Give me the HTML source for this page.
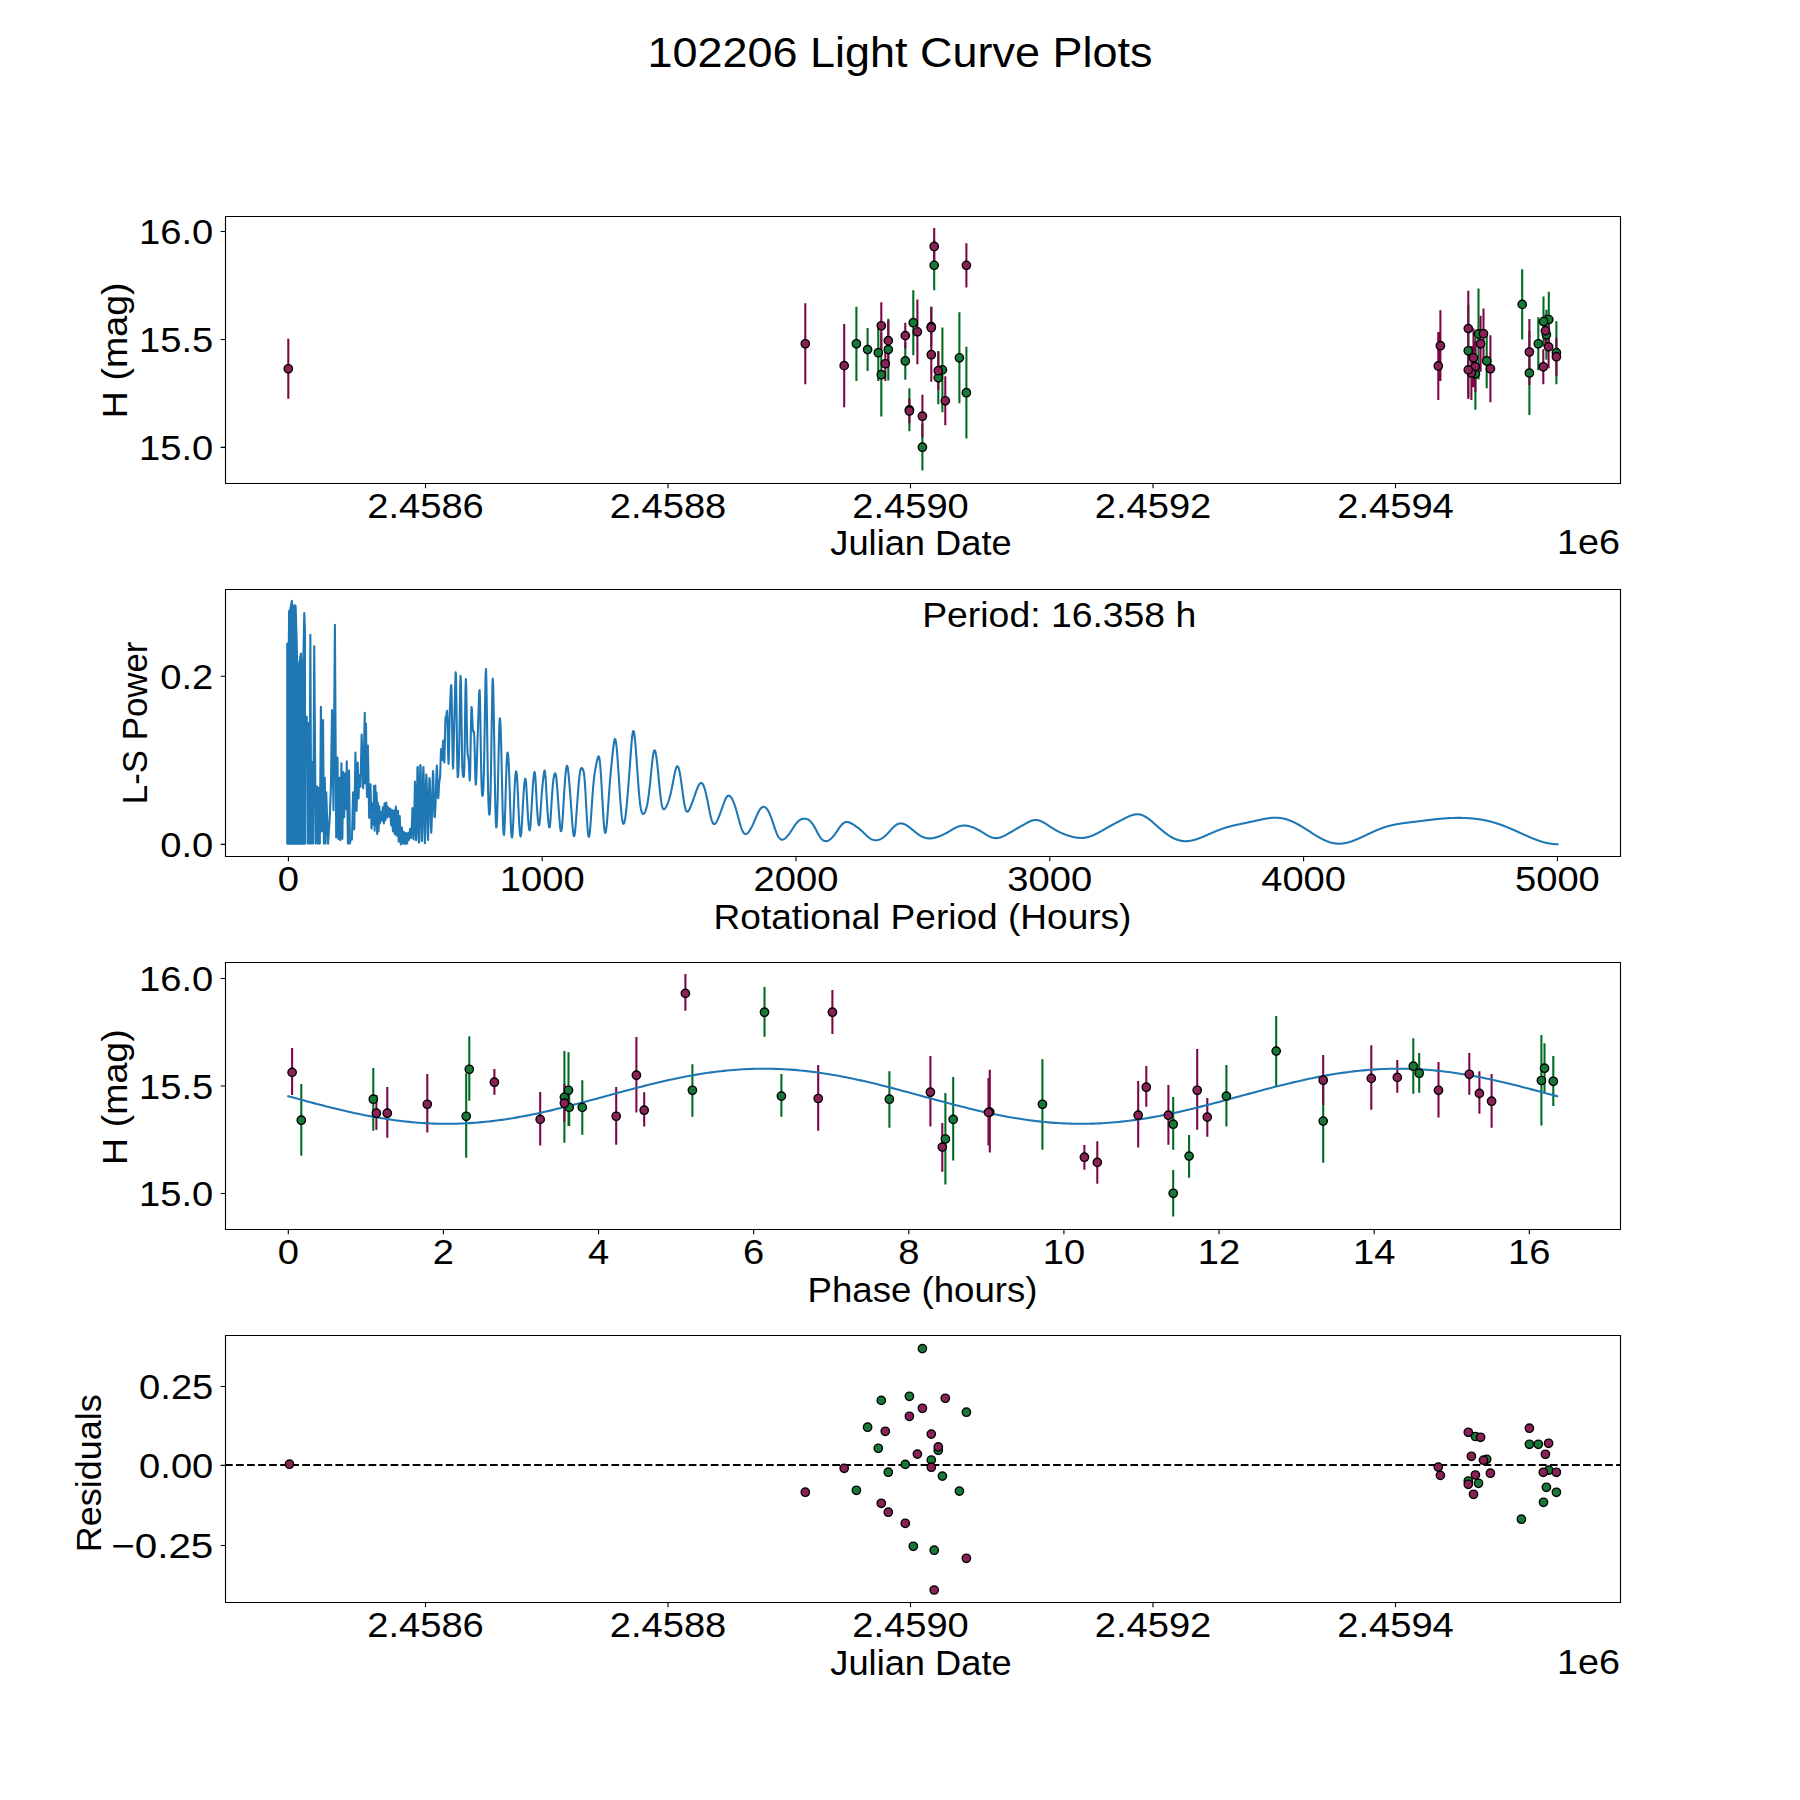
<!DOCTYPE html>
<html><head><meta charset="utf-8"><title>102206 Light Curve Plots</title>
<style>html,body{margin:0;padding:0;background:#fff;}svg{display:block;}text{font-family:"Liberation Sans",sans-serif;fill:#000;}</style>
</head><body>
<svg width="1800" height="1800" viewBox="0 0 1800 1800">
<rect width="1800" height="1800" fill="#fff"/>
<text x="900.00" y="67.19" font-size="42.40" text-anchor="middle" textLength="504.90" lengthAdjust="spacingAndGlyphs">102206 Light Curve Plots</text>
<g id="p1">
<path d="M1475.40 337.85V409.76M1556.40 321.23V384.20M913.30 290.25V355.13M942.40 327.46V412.32M1468.30 304.76V396.85M856.40 306.67V380.89M905.30 342.17V379.73M1486.70 333.58V388.32M1538.30 317.37V370.19M934.20 240.34V290.35M867.60 328.11V371.09M878.30 324.35V381.09M966.40 346.84V438.53M1529.40 331.07V414.93M959.40 312.34V403.33M938.30 351.31V404.34M922.40 423.82V470.62M909.40 388.37V431.35M888.30 318.67V380.54M1522.20 269.26V339.56M881.30 332.98V416.44M1548.80 291.66V347.49M931.30 306.67V346.54M1478.50 288.49V379.38M1543.50 296.48V346.69M1546.40 309.73V359.75" stroke="#006c23" stroke-width="2.083" fill="none"/>
<path d="M881.30 302.15V349.45M1543.30 349.35V384.20M1475.40 341.22V392.34M1473.50 328.41V387.26M905.30 322.74V348.55M1471.40 346.04V399.97M1556.40 337.80V375.66M1468.30 340.82V398.96M1468.30 290.70V366.53M885.30 346.49V381.04M934.20 228.04V264.89M1529.40 318.97V385.05M966.40 243.30V287.39M1440.40 310.29V381.09M945.30 376.37V425.28M844.20 324.09V407.25M1438.30 331.98V399.97M909.40 398.61V423.32M922.40 394.85V437.53M1490.40 335.34V402.23M888.30 320.18V361.15M288.30 338.71V398.86M805.30 303.31V384.25M938.30 351.31V390.08M1483.50 308.48V358.79M917.40 299.39V364.27M1545.40 314.40V347.24M1480.60 315.86V371.70M931.30 306.77V348.65M1548.60 325.55V368.23M931.30 327.76V381.69" stroke="#7d0745" stroke-width="2.083" fill="none"/>
<circle cx="1475.40" cy="373.81" r="4.167" fill="#177938" stroke="#000" stroke-width="1.389"/>
<circle cx="1556.40" cy="352.72" r="4.167" fill="#177938" stroke="#000" stroke-width="1.389"/>
<circle cx="913.30" cy="322.69" r="4.167" fill="#177938" stroke="#000" stroke-width="1.389"/>
<circle cx="942.40" cy="369.89" r="4.167" fill="#177938" stroke="#000" stroke-width="1.389"/>
<circle cx="1468.30" cy="350.81" r="4.167" fill="#177938" stroke="#000" stroke-width="1.389"/>
<circle cx="856.40" cy="343.78" r="4.167" fill="#177938" stroke="#000" stroke-width="1.389"/>
<circle cx="905.30" cy="360.95" r="4.167" fill="#177938" stroke="#000" stroke-width="1.389"/>
<circle cx="1486.70" cy="360.95" r="4.167" fill="#177938" stroke="#000" stroke-width="1.389"/>
<circle cx="1538.30" cy="343.78" r="4.167" fill="#177938" stroke="#000" stroke-width="1.389"/>
<circle cx="934.20" cy="265.34" r="4.167" fill="#177938" stroke="#000" stroke-width="1.389"/>
<circle cx="867.60" cy="349.60" r="4.167" fill="#177938" stroke="#000" stroke-width="1.389"/>
<circle cx="878.30" cy="352.72" r="4.167" fill="#177938" stroke="#000" stroke-width="1.389"/>
<circle cx="966.40" cy="392.69" r="4.167" fill="#177938" stroke="#000" stroke-width="1.389"/>
<circle cx="1529.40" cy="373.00" r="4.167" fill="#177938" stroke="#000" stroke-width="1.389"/>
<circle cx="959.40" cy="357.84" r="4.167" fill="#177938" stroke="#000" stroke-width="1.389"/>
<circle cx="938.30" cy="377.82" r="4.167" fill="#177938" stroke="#000" stroke-width="1.389"/>
<circle cx="922.40" cy="447.22" r="4.167" fill="#177938" stroke="#000" stroke-width="1.389"/>
<circle cx="909.40" cy="409.86" r="4.167" fill="#177938" stroke="#000" stroke-width="1.389"/>
<circle cx="888.30" cy="349.60" r="4.167" fill="#177938" stroke="#000" stroke-width="1.389"/>
<circle cx="1522.20" cy="304.41" r="4.167" fill="#177938" stroke="#000" stroke-width="1.389"/>
<circle cx="881.30" cy="374.71" r="4.167" fill="#177938" stroke="#000" stroke-width="1.389"/>
<circle cx="1548.80" cy="319.58" r="4.167" fill="#177938" stroke="#000" stroke-width="1.389"/>
<circle cx="931.30" cy="326.61" r="4.167" fill="#177938" stroke="#000" stroke-width="1.389"/>
<circle cx="1478.50" cy="333.94" r="4.167" fill="#177938" stroke="#000" stroke-width="1.389"/>
<circle cx="1543.50" cy="321.58" r="4.167" fill="#177938" stroke="#000" stroke-width="1.389"/>
<circle cx="1546.40" cy="334.74" r="4.167" fill="#177938" stroke="#000" stroke-width="1.389"/>
<circle cx="881.30" cy="325.80" r="4.167" fill="#8a2257" stroke="#000" stroke-width="1.389"/>
<circle cx="1543.30" cy="366.78" r="4.167" fill="#8a2257" stroke="#000" stroke-width="1.389"/>
<circle cx="1475.40" cy="366.78" r="4.167" fill="#8a2257" stroke="#000" stroke-width="1.389"/>
<circle cx="1473.50" cy="357.84" r="4.167" fill="#8a2257" stroke="#000" stroke-width="1.389"/>
<circle cx="905.30" cy="335.64" r="4.167" fill="#8a2257" stroke="#000" stroke-width="1.389"/>
<circle cx="1471.40" cy="373.00" r="4.167" fill="#8a2257" stroke="#000" stroke-width="1.389"/>
<circle cx="1556.40" cy="356.73" r="4.167" fill="#8a2257" stroke="#000" stroke-width="1.389"/>
<circle cx="1468.30" cy="369.89" r="4.167" fill="#8a2257" stroke="#000" stroke-width="1.389"/>
<circle cx="1468.30" cy="328.61" r="4.167" fill="#8a2257" stroke="#000" stroke-width="1.389"/>
<circle cx="885.30" cy="363.76" r="4.167" fill="#8a2257" stroke="#000" stroke-width="1.389"/>
<circle cx="934.20" cy="246.46" r="4.167" fill="#8a2257" stroke="#000" stroke-width="1.389"/>
<circle cx="1529.40" cy="352.01" r="4.167" fill="#8a2257" stroke="#000" stroke-width="1.389"/>
<circle cx="966.40" cy="265.34" r="4.167" fill="#8a2257" stroke="#000" stroke-width="1.389"/>
<circle cx="1440.40" cy="345.69" r="4.167" fill="#8a2257" stroke="#000" stroke-width="1.389"/>
<circle cx="945.30" cy="400.82" r="4.167" fill="#8a2257" stroke="#000" stroke-width="1.389"/>
<circle cx="844.20" cy="365.67" r="4.167" fill="#8a2257" stroke="#000" stroke-width="1.389"/>
<circle cx="1438.30" cy="365.97" r="4.167" fill="#8a2257" stroke="#000" stroke-width="1.389"/>
<circle cx="909.40" cy="410.96" r="4.167" fill="#8a2257" stroke="#000" stroke-width="1.389"/>
<circle cx="922.40" cy="416.19" r="4.167" fill="#8a2257" stroke="#000" stroke-width="1.389"/>
<circle cx="1490.40" cy="368.78" r="4.167" fill="#8a2257" stroke="#000" stroke-width="1.389"/>
<circle cx="888.30" cy="340.67" r="4.167" fill="#8a2257" stroke="#000" stroke-width="1.389"/>
<circle cx="288.30" cy="368.78" r="4.167" fill="#8a2257" stroke="#000" stroke-width="1.389"/>
<circle cx="805.30" cy="343.78" r="4.167" fill="#8a2257" stroke="#000" stroke-width="1.389"/>
<circle cx="938.30" cy="370.69" r="4.167" fill="#8a2257" stroke="#000" stroke-width="1.389"/>
<circle cx="1483.50" cy="333.64" r="4.167" fill="#8a2257" stroke="#000" stroke-width="1.389"/>
<circle cx="917.40" cy="331.83" r="4.167" fill="#8a2257" stroke="#000" stroke-width="1.389"/>
<circle cx="1545.40" cy="330.82" r="4.167" fill="#8a2257" stroke="#000" stroke-width="1.389"/>
<circle cx="1480.60" cy="343.78" r="4.167" fill="#8a2257" stroke="#000" stroke-width="1.389"/>
<circle cx="931.30" cy="327.71" r="4.167" fill="#8a2257" stroke="#000" stroke-width="1.389"/>
<circle cx="1548.60" cy="346.89" r="4.167" fill="#8a2257" stroke="#000" stroke-width="1.389"/>
<circle cx="931.30" cy="354.73" r="4.167" fill="#8a2257" stroke="#000" stroke-width="1.389"/>
</g>
<path d="M225.5 216.5H1620.5V483.5H225.5Z" fill="none" stroke="#000" stroke-width="1.111" stroke-linecap="square" stroke-linejoin="miter"/>
<path d="M425.50 483.50v4.86M668.00 483.50v4.86M910.50 483.50v4.86M1153.00 483.50v4.86M1395.50 483.50v4.86" stroke="#000" stroke-width="1.111"/>
<text x="425.50" y="517.59" font-size="35.33" text-anchor="middle" textLength="116.63" lengthAdjust="spacingAndGlyphs">2.4586</text>
<text x="668.00" y="517.59" font-size="35.33" text-anchor="middle" textLength="116.63" lengthAdjust="spacingAndGlyphs">2.4588</text>
<text x="910.50" y="517.59" font-size="35.33" text-anchor="middle" textLength="116.63" lengthAdjust="spacingAndGlyphs">2.4590</text>
<text x="1153.00" y="517.59" font-size="35.33" text-anchor="middle" textLength="116.63" lengthAdjust="spacingAndGlyphs">2.4592</text>
<text x="1395.50" y="517.59" font-size="35.33" text-anchor="middle" textLength="116.63" lengthAdjust="spacingAndGlyphs">2.4594</text>
<path d="M225.50 447.42h-4.86M225.50 339.46h-4.86M225.50 231.50h-4.86" stroke="#000" stroke-width="1.111"/>
<text x="213.30" y="460.09" font-size="35.33" text-anchor="end" textLength="74.22" lengthAdjust="spacingAndGlyphs">15.0</text>
<text x="213.30" y="352.13" font-size="35.33" text-anchor="end" textLength="74.22" lengthAdjust="spacingAndGlyphs">15.5</text>
<text x="213.30" y="244.17" font-size="35.33" text-anchor="end" textLength="74.22" lengthAdjust="spacingAndGlyphs">16.0</text>
<text x="921.00" y="555.40" font-size="35.33" text-anchor="middle" textLength="181.30" lengthAdjust="spacingAndGlyphs">Julian Date</text>
<text x="1620.00" y="554.02" font-size="35.33" text-anchor="end" textLength="62.92" lengthAdjust="spacingAndGlyphs">1e6</text>
<text x="126.57" y="350.27" font-size="35.33" text-anchor="middle" textLength="135.73" lengthAdjust="spacingAndGlyphs" transform="rotate(-90 126.57 350.27)">H (mag)</text>
<clipPath id="c2"><rect x="225" y="589.15" width="1395" height="266.54"/></clipPath>
<g clip-path="url(#c2)"><polygon points="287.23,643.47 288.82,643.47 289.10,610.95 290.12,610.23 291.85,600.84 293.29,620.35 294.45,605.17 295.61,605.90 296.62,639.13 297.34,676.71 298.50,668.03 300.95,653.58 302.40,704.16 304.28,613.12 305.00,633.35 305.00,843.61 287.23,843.61" fill="#1f77b4" stroke="#1f77b4" stroke-width="2.083" stroke-linejoin="round"/>
<polyline points="306.73,715.72 307.67,843.61 308.61,722.95 309.48,843.61 310.35,634.80 311.21,843.61 312.08,761.97 313.16,843.61 314.25,646.36 315.77,843.61 317.28,786.53 318.01,843.61 318.73,787.98 319.81,843.61 320.90,706.76 321.98,831.42 323.06,720.06 323.93,843.61 324.80,777.86 325.52,843.61 326.24,792.31 328.05,843.61 329.86,815.43 330.94,785.61 332.02,709.94 333.47,810.33 334.91,624.68 336.21,837.50 337.51,757.63 338.38,838.94 339.25,777.86 340.33,840.24 341.42,763.41 342.36,838.84 343.29,772.08 344.16,817.17 345.03,773.53 345.90,809.08 346.76,761.24 347.92,843.61 349.08,770.64 349.92,843.53 350.76,838.83 351.93,839.42 353.09,792.18 354.26,829.50 355.43,752.52 356.59,810.84 357.76,762.63 358.54,798.40 359.32,775.07 360.48,786.73 361.65,734.63 363.20,788.29 364.76,712.86 365.38,783.43 366.00,723.75 366.94,797.04 367.87,745.52 369.19,817.99 370.51,784.40 371.52,828.57 372.53,818.62" fill="none" stroke="#1f77b4" stroke-width="2.083" stroke-linejoin="round"/>
<polyline points="372.53,814.34 372.89,803.39 373.24,824.53 373.60,818.81 373.95,785.93 374.30,808.97 374.66,830.62 375.01,791.74 375.36,785.56 375.72,825.65 376.07,824.02 376.42,792.31 376.78,798.27 377.13,833.93 377.48,820.38 377.84,802.49 378.19,808.94 378.54,831.18 378.90,819.51 379.25,806.25 379.60,813.40 379.96,823.37 380.31,819.12 380.67,811.45 381.02,817.56 381.37,813.30 381.73,815.95 382.08,814.82 382.43,820.98 382.79,807.41 383.14,809.49 383.49,816.69 383.85,823.34 384.20,813.44 384.55,803.33 384.91,812.72 385.26,820.47 385.61,818.81 385.97,804.81 386.32,802.50 386.67,811.63 387.03,817.46 387.38,811.83 387.74,806.82 388.09,807.39 388.44,810.42 388.80,816.41 389.15,815.17 389.50,816.65 389.86,813.16 390.21,808.44 390.56,816.33 390.92,821.95 391.27,825.43 391.62,818.74 391.98,809.96 392.33,815.89 392.68,827.65 393.04,831.39 393.39,822.87 393.74,811.43 394.10,810.46 394.45,825.21 394.81,834.33 395.16,826.31 395.51,812.89 395.87,806.55 396.22,817.09 396.57,834.69 396.93,835.69 397.28,820.86 397.63,810.83 397.99,810.98 398.34,829.34 398.69,841.63 399.05,837.35 399.40,822.93 399.75,816.15 400.11,825.79 400.46,839.47 400.81,844.37 401.17,839.71 401.52,828.71 401.88,827.53 402.23,837.25 402.58,842.47 402.94,843.60 403.29,839.38 403.64,831.87 404.00,833.94 404.35,841.27 404.70,843.89 405.06,843.30 405.41,839.52 405.76,832.88 406.12,834.08 406.47,840.70 406.82,843.76 407.18,843.17 407.53,840.19 407.88,834.65 408.24,832.80 408.59,837.07 408.95,839.86 409.30,838.19 409.65,834.36 410.01,829.01 410.36,828.86 410.71,834.51 411.07,837.92 411.42,834.96 411.77,826.96 412.13,817.11 412.48,807.92 412.83,815.56 413.19,832.96 413.54,839.55 413.89,832.47 414.25,816.71 414.60,798.16 414.95,781.64 415.31,792.04 415.66,820.64 416.02,840.19 416.37,838.34 416.72,818.72 417.08,791.68 417.43,767.93 417.78,766.93 418.14,793.50 418.49,824.76 418.84,842.82 419.20,836.97 419.55,812.49 419.90,786.04 420.26,764.97 420.61,765.83 420.96,787.85 421.32,817.79 421.67,841.14 422.02,840.10 422.38,819.53 422.73,795.54 423.09,772.45 423.44,767.07 423.79,781.13 424.15,803.82 424.50,830.70 424.85,843.16 425.21,830.82 425.56,807.80 425.91,786.98 426.27,774.60 426.62,779.21 426.97,793.10 427.33,812.43 427.68,833.04 428.03,840.04 428.39,826.74 428.74,806.11 429.09,788.59 429.45,778.08 429.80,780.18 430.16,791.54 430.51,808.30 430.86,825.15 431.22,832.74 431.57,827.75 431.92,814.90 432.28,798.51 432.63,781.28 432.98,771.16 433.34,774.74 433.69,788.68 434.04,806.00 434.40,816.62 434.75,817.07 435.10,812.69 435.46,806.39 435.81,797.62 436.16,785.03 436.52,771.14 436.87,765.48 437.23,771.27 437.58,785.05 437.93,796.45 438.29,798.20 438.64,793.15 438.99,785.78 439.35,780.77 439.70,780.06 440.05,777.31 440.41,768.14 440.76,756.11 441.11,749.00 441.47,751.89 441.82,758.47 442.17,759.89 442.53,753.74 442.88,743.98 443.23,740.49 443.59,748.30 443.94,759.16 444.30,762.47 444.65,753.27 445.00,735.49 445.36,720.93 445.71,716.56 446.06,716.69 446.42,715.13 446.77,711.51 447.12,710.88 447.48,720.20 447.83,738.15 448.18,756.07 448.54,764.03 448.89,756.07 449.24,737.18 449.60,719.53 449.95,708.30 450.30,699.84 450.66,691.81 451.01,685.29 451.37,685.26 451.72,697.50 452.07,720.48 452.43,746.84 452.78,765.76 453.13,768.41 453.49,756.69 453.84,740.62 454.19,726.60 454.55,713.32 454.90,698.60 455.25,683.05 455.61,672.25 455.96,674.98 456.31,692.69 456.67,719.59 457.02,748.14 457.37,769.04 457.73,777.20 458.08,775.60 458.44,769.87 458.79,761.71 459.14,749.55 459.50,731.38 459.85,707.48 460.20,685.19 460.56,675.91 460.91,682.41 461.26,700.75 461.62,726.22 461.97,750.48 462.32,766.20 462.68,773.23 463.03,775.82 463.38,776.85 463.74,776.96 464.09,774.48 464.44,764.17 464.80,741.34 465.15,710.84 465.51,687.25 465.86,679.00 466.21,686.11 466.57,705.48 466.92,728.43 467.27,745.65 467.63,754.18 467.98,756.72 468.33,757.39 468.69,759.80 469.04,766.55 469.39,775.75 469.75,780.56 470.10,774.34 470.45,756.52 470.81,734.41 471.16,716.19 471.51,706.93 471.87,708.31 472.22,716.53 472.57,725.18 472.93,730.43 473.28,731.82 473.64,731.12 473.99,731.88 474.34,738.20 474.70,751.07 475.05,766.54 475.40,779.02 475.76,784.63 476.11,782.44 476.46,774.19 476.82,762.91 477.17,751.28 477.52,740.53 477.88,730.34 478.23,720.11 478.58,709.66 478.94,699.35 479.29,691.23 479.64,689.98 480.00,699.71 480.35,719.10 480.71,742.22 481.06,763.45 481.41,779.57 481.77,789.63 482.12,794.51 482.47,795.96 482.83,795.13 483.18,791.59 483.53,783.86 483.89,771.05 484.24,753.75 484.59,733.55 484.95,711.68 485.30,690.01 485.65,673.49 486.01,669.02 486.36,679.28 486.71,700.22 487.07,725.66 487.42,751.08 487.78,773.43 488.13,790.84 488.48,802.95 488.84,810.55 489.19,814.42 489.54,814.65 489.90,810.74 490.25,802.30 490.60,789.37 490.96,772.31 491.31,751.47 491.66,727.79 492.02,704.21 492.37,686.08 492.72,678.47 493.08,682.57 493.43,695.69 493.78,714.28 494.14,735.88 494.49,758.64 494.85,780.55 495.20,799.57 495.55,814.16 495.91,823.52 496.26,827.52 496.61,826.41 496.97,820.69 497.32,811.01 497.67,798.05 498.03,782.48 498.38,765.21 498.73,747.92 499.09,733.01 499.44,722.74 499.79,718.32 500.15,719.54 500.50,725.33 500.85,734.56 501.21,746.60 501.56,761.12 501.92,777.45 502.27,794.19 502.62,809.48 502.98,821.81 503.33,830.34 503.68,834.72 504.04,834.84 504.39,830.91 504.74,823.55 505.10,813.55 505.45,801.72 505.80,789.00 506.16,776.68 506.51,766.15 506.86,758.45 507.22,753.95 507.57,752.46 507.92,753.50 508.28,756.69 508.63,761.93 508.99,769.34 509.34,778.90 509.69,790.08 510.05,801.82 510.40,812.89 510.75,822.38 511.11,829.81 511.46,834.91 511.81,837.46 512.17,837.33 512.52,834.61 512.87,829.54 513.23,822.48 513.58,813.93 513.93,804.63 514.29,795.49 514.64,787.36 514.99,780.77 515.35,775.95 515.70,772.87 516.06,771.43 516.41,771.65 516.76,773.72 517.12,777.88 517.47,784.14 517.82,792.04 518.18,800.75 518.53,809.34 518.88,817.16 519.24,823.87 519.59,829.33 519.94,833.37 520.30,835.77 520.65,836.36 521.00,835.07 521.36,831.95 521.71,827.20 522.06,821.19 522.42,814.48 522.77,807.65 523.13,801.19 523.48,795.35 523.83,790.25 524.19,785.93 524.54,782.45 524.89,779.97 525.25,778.78 525.60,779.27 525.95,781.70 526.31,786.08 526.66,791.99 527.01,798.73 527.37,805.56 527.72,811.96 528.07,817.65 528.43,822.49 528.78,826.35 529.13,829.02 529.49,830.32 529.84,830.04 530.20,828.10 530.55,824.52 530.90,819.54 531.26,813.58 531.61,807.17 531.96,800.79 532.32,794.74 532.67,789.18 533.02,784.17 533.38,779.75 533.73,776.05 534.08,773.33 534.44,771.95 534.79,772.36 535.14,774.84 535.50,779.37 535.85,785.50 536.20,792.46 536.56,799.48 536.91,806.00 537.27,811.74 537.62,816.58 537.97,820.47 538.33,823.33 538.68,825.00 539.03,825.32 539.39,824.18 539.74,821.58 540.09,817.67 540.45,812.83 540.80,807.53 541.15,802.24 541.51,797.28 541.86,792.76 542.61,784.50 543.01,780.49 543.42,776.78 543.82,773.54 544.23,771.23 544.64,770.49 545.04,771.99 545.45,776.00 545.86,782.14 546.26,789.45 546.67,796.94 547.07,803.99 547.48,810.36 547.89,816.03 548.29,820.90 548.70,824.68 549.11,826.98 549.51,827.41 549.92,825.73 550.32,821.96 550.73,816.43 551.14,809.79 551.54,802.85 551.95,796.30 552.36,790.56 552.76,785.76 553.17,781.85 553.57,778.74 553.98,776.33 554.39,774.59 554.79,773.53 555.20,773.23 555.61,773.86 556.01,775.63 556.42,778.70 556.82,782.99 557.23,788.18 557.64,793.87 558.04,799.71 558.45,805.53 558.86,811.27 559.26,816.81 559.67,821.92 560.07,826.26 560.48,829.45 560.89,831.14 561.29,831.10 561.70,829.23 562.11,825.59 562.51,820.41 562.92,814.11 563.32,807.20 563.73,800.16 564.14,793.37 564.54,787.04 564.95,781.31 565.36,776.29 565.76,772.08 566.17,768.83 566.57,766.69 566.98,765.78 567.39,766.19 567.79,767.94 568.20,770.92 568.61,774.86 569.01,779.43 569.42,784.31 569.82,789.31 570.23,794.43 570.64,799.75 571.04,805.36 571.45,811.21 571.86,817.12 572.26,822.77 572.67,827.80 573.07,831.88 573.48,834.71 573.89,836.10 574.29,835.93 574.70,834.20 575.11,831.06 575.51,826.79 575.92,821.72 576.32,816.15 576.73,810.37 577.14,804.55 577.54,798.84 577.95,793.35 578.36,788.16 578.76,783.39 579.17,779.13 579.57,775.48 579.98,772.51 580.39,770.30 580.79,768.85 581.20,768.12 581.61,767.95 582.01,768.16 582.42,768.61 582.82,769.26 583.23,770.23 583.64,771.75 584.04,774.16 584.45,777.73 584.86,782.61 585.26,788.71 585.67,795.76 586.07,803.34 586.48,810.99 586.89,818.27 587.29,824.79 587.70,830.18 588.11,834.12 588.51,836.37 588.92,836.83 589.32,835.57 589.73,832.78 590.14,828.77 590.54,823.85 590.95,818.31 591.36,812.39 591.76,806.34 592.17,800.34 592.57,794.60 592.98,789.28 593.39,784.49 593.79,780.28 594.20,776.65 594.61,773.55 595.01,770.89 595.42,768.57 595.82,766.47 596.23,764.49 596.64,762.58 597.04,760.71 597.45,758.98 597.86,757.53 598.26,756.58 598.67,756.35 599.07,757.06 599.48,758.90 599.89,761.94 600.29,766.15 600.70,771.41 601.11,777.54 601.51,784.30 601.92,791.48 602.32,798.84 602.73,806.14 603.14,813.11 603.54,819.44 603.95,824.82 604.36,828.97 604.76,831.69 605.17,832.90 605.57,832.62 605.98,830.97 606.39,828.11 606.79,824.24 607.20,819.55 607.61,814.25 608.01,808.55 608.42,802.64 608.82,796.73 609.23,790.97 609.64,785.50 610.04,780.37 610.45,775.61 610.85,771.16 611.26,766.94 611.67,762.86 612.07,758.86 612.48,754.92 612.89,751.09 613.29,747.48 613.70,744.27 614.10,741.66 614.51,739.85 614.92,739.02 615.32,739.27 615.73,740.64 616.14,743.11 616.54,746.58 616.95,750.91 617.35,755.95 617.76,761.53 618.17,767.51 618.57,773.75 618.98,780.10 619.39,786.44 619.79,792.64 620.20,798.55 620.60,804.04 621.01,809.01 621.42,813.35 621.82,816.98 622.23,819.85 622.64,821.96 623.04,823.28 623.45,823.84 623.85,823.66 624.26,822.78 624.67,821.24 625.07,819.09 625.48,816.37 625.89,813.14 626.29,809.45 626.70,805.36 627.10,800.95 627.51,796.26 627.92,791.35 628.32,786.26 628.73,781.01 629.14,775.61 629.54,770.09 629.95,764.47 630.35,758.81 630.76,753.20 631.17,747.80 631.57,742.79 631.98,738.41 632.39,734.87 632.79,732.38 633.20,731.08 633.60,731.04 634.01,732.24 634.42,734.60 634.82,737.95 635.23,742.13 635.64,746.96 636.04,752.26 636.45,757.90 636.85,763.72 637.26,769.63 637.67,775.49 638.07,781.19 638.48,786.62 638.89,791.67 639.29,796.24 639.70,800.27 640.10,803.73 640.51,806.60 640.92,808.91 641.32,810.70 641.73,812.03 642.14,812.96 642.54,813.55 642.95,813.85 643.35,813.91 643.76,813.77 644.17,813.43 644.57,812.92 644.98,812.22 645.39,811.33 645.79,810.23 646.20,808.91 646.60,807.36 647.01,805.57 647.42,803.52 647.82,801.19 648.23,798.60 648.64,795.72 649.04,792.56 649.45,789.14 649.85,785.46 650.26,781.57 650.67,777.52 651.07,773.38 651.48,769.24 651.89,765.21 652.29,761.43 652.70,758.03 653.10,755.13 653.51,752.86 653.92,751.29 654.32,750.47 654.73,750.40 655.14,751.06 655.54,752.40 655.95,754.36 656.35,756.86 656.76,759.83 657.17,763.20 657.57,766.92 657.98,770.91 658.39,775.09 658.79,779.38 659.20,783.68 659.60,787.87 660.01,791.85 660.42,795.52 660.82,798.81 661.23,801.66 661.64,804.03 662.04,805.92 662.45,807.35 662.85,808.36 663.26,808.98 663.67,809.27 664.07,809.29 664.48,809.09 664.89,808.71 665.29,808.20 665.70,807.59 666.10,806.90 666.51,806.14 666.92,805.31 667.32,804.41 667.73,803.43 668.14,802.37 668.54,801.22 668.95,799.96 669.35,798.60 669.76,797.14 670.17,795.57 670.57,793.90 670.98,792.13 671.39,790.27 671.79,788.32 672.20,786.31 672.60,784.24 673.01,782.12 673.42,779.99 673.82,777.86 674.23,775.78 674.64,773.78 675.04,771.91 675.45,770.24 675.85,768.79 676.26,767.64 676.67,766.81 677.07,766.34 677.48,766.26 677.88,766.56 678.29,767.24 678.70,768.30 679.10,769.71 679.51,771.45 679.92,773.49 680.32,775.81 680.73,778.37 681.13,781.13 681.54,784.04 681.95,787.07 682.35,790.14 682.76,793.20 683.17,796.18 683.57,799.01 683.98,801.64 684.38,804.02 684.79,806.10 685.20,807.87 685.60,809.29 686.01,810.39 686.42,811.15 686.82,811.61 687.23,811.79 687.63,811.72 688.04,811.43 688.45,810.95 688.85,810.33 689.26,809.60 689.67,808.77 690.07,807.89 690.48,806.95 690.88,805.98 691.29,804.97 691.70,803.94 692.10,802.89 692.51,801.80 692.92,800.69 693.32,799.56 693.73,798.39 694.13,797.21 694.54,796.01 694.95,794.80 695.35,793.60 695.76,792.41 696.17,791.25 696.57,790.13 696.98,789.05 697.38,788.04 697.79,787.09 698.20,786.22 698.60,785.43 699.01,784.74 699.42,784.14 699.82,783.65 700.23,783.27 700.63,783.02 701.04,782.91 701.45,782.94 701.85,783.12 702.26,783.46 702.67,783.96 703.07,784.62 703.48,785.44 703.88,786.41 704.29,787.53 704.70,788.79 705.10,790.19 705.51,791.72 705.92,793.36 706.32,795.11 706.73,796.96 707.13,798.90 707.54,800.90 707.95,802.97 708.35,805.06 708.76,807.17 709.17,809.26 709.57,811.30 709.98,813.27 710.38,815.14 710.79,816.87 711.20,818.45 711.60,819.85 712.01,821.06 712.42,822.07 712.82,822.87 713.23,823.47 713.63,823.86 714.04,824.06 714.45,824.08 714.85,823.92 715.26,823.61 715.67,823.16 716.07,822.60 716.48,821.93 716.88,821.18 717.29,820.35 717.70,819.47 718.10,818.55 718.51,817.58 718.92,816.59 719.32,815.57 719.73,814.52 720.13,813.45 720.54,812.36 720.95,811.25 721.35,810.11 721.76,808.97 722.17,807.81 722.57,806.65 722.98,805.50 723.38,804.36 723.79,803.24 724.20,802.16 724.60,801.13 725.01,800.17 725.42,799.27 725.82,798.46 726.23,797.74 726.63,797.12 727.04,796.61 727.45,796.20 727.85,795.90 728.26,795.71 728.67,795.64 729.07,795.67 729.48,795.80 729.88,796.04 730.29,796.37 730.70,796.80 731.10,797.31 731.51,797.91 731.92,798.60 732.32,799.36 732.73,800.19 733.13,801.10 733.54,802.07 733.95,803.11 734.35,804.21 734.76,805.38 735.17,806.60 735.57,807.87 735.98,809.20 736.38,810.58 736.79,812.00 737.20,813.46 737.60,814.94 738.01,816.45 738.42,817.96 738.82,819.47 739.23,820.96 739.63,822.43 740.04,823.85 740.45,825.21 740.85,826.51 741.26,827.72 741.67,828.85 742.07,829.87 742.48,830.79 742.88,831.60 743.29,832.29 743.70,832.87 744.10,833.34 744.51,833.69 744.92,833.93 745.32,834.06 745.73,834.10 746.13,834.04 746.54,833.89 746.95,833.66 747.35,833.36 747.76,832.98 748.16,832.55 748.57,832.06 748.98,831.52 749.38,830.93 749.79,830.30 750.20,829.64 750.60,828.94 751.01,828.21 751.41,827.45 751.82,826.66 752.23,825.85 752.63,825.01 753.04,824.14 753.45,823.25 753.85,822.34 754.26,821.42 754.66,820.48 755.07,819.53 755.48,818.57 755.88,817.62 756.29,816.67 756.70,815.74 757.10,814.82 757.51,813.93 757.91,813.08 758.32,812.26 758.73,811.48 759.13,810.75 759.54,810.08 759.95,809.47 760.35,808.91 760.76,808.41 761.16,807.99 761.57,807.62 761.98,807.33 762.38,807.10 762.79,806.94 763.20,806.84 763.60,806.82 764.01,806.85 764.41,806.96 764.82,807.13 765.23,807.36 765.63,807.65 766.04,808.01 766.45,808.42 766.85,808.89 767.26,809.43 767.66,810.02 768.07,810.67 768.48,811.38 768.88,812.14 769.29,812.97 769.70,813.85 770.10,814.79 770.51,815.78 770.91,816.83 771.32,817.92 771.73,819.05 772.13,820.22 772.54,821.42 772.95,822.64 773.35,823.88 773.76,825.12 774.16,826.35 774.57,827.57 774.98,828.77 775.38,829.93 775.79,831.05 776.20,832.11 776.60,833.12 777.01,834.07 777.41,834.95 777.82,835.75 778.23,836.48 778.63,837.14 779.04,837.71 779.45,838.21 779.85,838.64 780.26,838.98 780.66,839.26 781.07,839.46 781.48,839.60 781.88,839.67 782.29,839.68 782.70,839.64 783.10,839.54 783.51,839.39 783.91,839.19 784.32,838.96 784.73,838.68 785.13,838.37 785.54,838.03 785.95,837.66 786.35,837.27 786.76,836.85 787.16,836.41 787.57,835.94 787.98,835.46 788.38,834.96 788.79,834.44 789.20,833.90 789.60,833.34 790.01,832.77 790.41,832.18 790.82,831.57 791.23,830.96 791.63,830.33 792.04,829.69 792.45,829.05 792.85,828.41 793.26,827.77 793.66,827.13 794.07,826.50 794.48,825.88 794.88,825.28 795.29,824.69 795.70,824.13 796.10,823.60 796.51,823.09 796.91,822.60 797.32,822.15 797.73,821.73 798.13,821.34 798.54,820.98 798.95,820.65 799.35,820.35 799.76,820.08 800.16,819.84 800.57,819.62 800.98,819.43 801.38,819.26 801.79,819.11 802.20,818.99 802.60,818.89 803.01,818.80 803.41,818.74 803.82,818.70 804.23,818.68 804.63,818.68 805.04,818.70 805.45,818.74 805.85,818.80 806.26,818.89 806.66,819.00 807.07,819.13 807.48,819.29 807.88,819.47 808.29,819.69 808.70,819.93 809.10,820.20 809.51,820.51 809.91,820.85 810.32,821.22 810.73,821.62 811.13,822.07 811.54,822.55 811.95,823.06 812.35,823.61 812.76,824.20 813.16,824.82 813.57,825.47 813.98,826.15 814.38,826.85 814.79,827.58 815.19,828.33 815.60,829.09 816.01,829.86 816.41,830.63 816.82,831.40 817.23,832.17 817.63,832.93 818.04,833.67 818.44,834.39 818.85,835.08 819.26,835.75 819.66,836.39 820.07,837.00 820.48,837.56 820.88,838.09 821.29,838.58 821.69,839.03 822.10,839.43 822.51,839.80 822.91,840.11 823.32,840.39 823.73,840.62 824.13,840.81 824.54,840.96 824.94,841.07 825.35,841.13 825.76,841.16 826.16,841.14 826.57,841.10 826.98,841.01 827.38,840.90 827.79,840.75 828.19,840.57 828.60,840.36 829.01,840.13 829.41,839.87 829.82,839.58 830.23,839.27 830.63,838.94 831.04,838.59 831.44,838.22 831.85,837.83 832.26,837.41 832.66,836.98 833.07,836.52 833.48,836.05 833.88,835.55 834.29,835.04 834.69,834.51 835.10,833.97 835.51,833.40 835.91,832.83 836.32,832.24 836.73,831.64 837.13,831.03 837.54,830.42 837.94,829.81 838.35,829.20 838.76,828.60 839.16,828.00 839.57,827.42 839.98,826.85 840.38,826.31 840.79,825.79 841.19,825.30 841.60,824.83 842.01,824.40 842.41,824.00 842.82,823.64 843.23,823.31 843.63,823.02 844.04,822.77 844.44,822.55 844.85,822.38 845.26,822.23 845.66,822.13 846.07,822.05 846.48,822.01 846.88,822.00 847.29,822.02 847.69,822.07 848.10,822.14 848.51,822.24 848.91,822.36 849.32,822.50 849.73,822.66 850.13,822.84 850.54,823.03 850.94,823.23 851.35,823.45 851.76,823.68 852.16,823.91 852.57,824.16 852.98,824.41 853.38,824.66 853.79,824.92 854.19,825.19 854.60,825.45 855.01,825.73 855.41,826.00 855.82,826.28 856.23,826.56 856.63,826.85 857.04,827.14 857.44,827.43 857.85,827.74 858.26,828.04 858.66,828.35 859.07,828.67 859.48,829.00 859.88,829.33 860.29,829.67 860.69,830.02 861.10,830.38 861.51,830.74 861.91,831.11 862.32,831.48 862.73,831.86 863.13,832.25 863.54,832.64 863.94,833.03 864.35,833.42 864.76,833.82 865.16,834.21 865.57,834.60 865.98,834.99 866.38,835.37 866.79,835.74 867.19,836.11 867.60,836.46 868.01,836.81 868.41,837.14 868.82,837.46 869.23,837.77 869.63,838.06 870.04,838.33 870.44,838.59 870.85,838.83 871.26,839.05 871.66,839.26 872.07,839.44 872.48,839.61 872.88,839.76 873.29,839.89 873.69,840.00 874.10,840.09 874.51,840.16 874.91,840.21 875.32,840.25 875.73,840.26 876.13,840.26 876.54,840.24 876.94,840.20 877.35,840.14 877.76,840.07 878.16,839.97 878.57,839.86 878.98,839.74 879.38,839.59 879.79,839.43 880.19,839.26 880.60,839.07 881.01,838.86 881.41,838.64 881.82,838.40 882.22,838.15 882.63,837.88 883.04,837.60 883.44,837.31 883.85,837.00 884.26,836.68 884.66,836.34 885.07,835.99 885.47,835.63 885.88,835.26 886.29,834.87 886.69,834.47 887.10,834.06 887.51,833.65 887.91,833.22 888.32,832.78 888.72,832.34 889.13,831.89 889.54,831.44 889.94,830.99 890.35,830.53 890.76,830.08 891.16,829.62 891.57,829.17 891.97,828.73 892.38,828.30 892.79,827.87 893.19,827.46 893.60,827.06 894.01,826.67 894.41,826.30 894.82,825.95 895.22,825.62 895.63,825.31 896.04,825.02 896.44,824.75 896.85,824.51 897.26,824.29 897.66,824.10 898.07,823.93 898.47,823.78 898.88,823.66 899.29,823.56 899.69,823.49 900.10,823.44 900.51,823.42 900.91,823.41 901.32,823.43 901.72,823.47 902.13,823.53 902.54,823.61 902.94,823.71 903.35,823.83 903.76,823.96 904.16,824.11 904.57,824.28 904.97,824.47 905.38,824.67 905.79,824.88 906.19,825.10 906.60,825.34 907.01,825.59 907.41,825.86 907.82,826.13 908.22,826.41 908.63,826.70 909.04,827.00 909.44,827.31 909.85,827.62 910.26,827.94 910.66,828.27 911.07,828.60 911.47,828.93 911.88,829.27 912.29,829.60 912.69,829.94 913.10,830.28 913.51,830.62 913.91,830.96 914.32,831.30 914.72,831.64 915.13,831.97 915.54,832.30 915.94,832.62 916.35,832.94 916.76,833.26 917.16,833.56 917.57,833.87 917.97,834.16 918.38,834.45 918.79,834.73 919.19,835.00 919.60,835.26 920.01,835.51 920.41,835.75 920.82,835.99 921.22,836.21 921.63,836.42 922.04,836.63 922.44,836.82 922.85,837.00 923.26,837.17 923.66,837.33 924.07,837.47 924.47,837.61 924.88,837.74 925.29,837.85 925.69,837.95 926.10,838.05 926.51,838.13 926.91,838.20 927.32,838.26 927.72,838.31 928.13,838.35 928.54,838.38 928.94,838.40 929.35,838.41 929.76,838.41 930.16,838.40 930.57,838.38 930.97,838.36 931.38,838.32 931.79,838.28 932.19,838.23 932.60,838.17 933.01,838.10 933.41,838.03 933.82,837.95 934.22,837.86 934.63,837.77 935.04,837.67 935.44,837.57 935.85,837.46 936.26,837.34 936.66,837.22 937.07,837.10 937.47,836.97 937.88,836.83 938.29,836.69 938.69,836.54 939.10,836.40 939.51,836.24 939.91,836.08 940.32,835.92 940.72,835.76 941.13,835.59 941.54,835.41 941.94,835.23 942.35,835.05 942.76,834.86 943.16,834.67 943.57,834.48 943.97,834.28 944.38,834.07 944.79,833.87 945.19,833.66 945.60,833.44 946.01,833.22 946.41,833.00 946.82,832.77 947.22,832.54 947.63,832.31 948.04,832.07 948.44,831.83 948.85,831.59 949.25,831.35 949.66,831.11 950.07,830.86 950.47,830.62 950.88,830.37 951.29,830.13 951.69,829.88 952.10,829.64 952.50,829.40 952.91,829.17 953.32,828.93 953.72,828.70 954.13,828.48 954.54,828.26 954.94,828.05 955.35,827.84 955.75,827.64 956.16,827.45 956.57,827.27 956.97,827.09 957.38,826.92 957.79,826.76 958.19,826.61 958.60,826.48 959.00,826.35 959.41,826.23 959.82,826.12 960.22,826.02 960.63,825.93 961.04,825.85 961.44,825.78 961.85,825.72 962.25,825.67 962.66,825.63 963.07,825.60 963.47,825.58 963.88,825.57 964.29,825.56 964.69,825.57 965.10,825.59 965.50,825.61 965.91,825.64 966.32,825.68 966.72,825.73 967.13,825.79 967.54,825.85 967.94,825.93 968.35,826.01 968.75,826.09 969.16,826.19 969.57,826.29 969.97,826.40 970.38,826.51 970.79,826.63 971.19,826.76 971.60,826.89 972.00,827.03 972.41,827.18 972.82,827.33 973.22,827.48 973.63,827.65 974.04,827.82 974.44,827.99 974.85,828.17 975.25,828.36 975.66,828.55 976.07,828.74 976.47,828.94 976.88,829.15 977.29,829.36 977.69,829.57 978.10,829.79 978.50,830.02 978.91,830.25 979.32,830.48 979.72,830.72 980.13,830.96 980.54,831.20 980.94,831.44 981.35,831.69 981.75,831.94 982.16,832.20 982.57,832.45 982.97,832.71 983.38,832.96 983.79,833.22 984.19,833.47 984.60,833.73 985.00,833.98 985.41,834.23 985.82,834.48 986.22,834.73 986.63,834.97 987.04,835.21 987.44,835.44 987.85,835.66 988.25,835.88 988.66,836.09 989.07,836.30 989.47,836.49 989.88,836.68 990.29,836.86 990.69,837.03 991.10,837.18 991.50,837.33 991.91,837.46 992.32,837.58 992.72,837.69 993.13,837.79 993.54,837.88 993.94,837.95 994.35,838.01 994.75,838.05 995.16,838.09 995.57,838.11 995.97,838.11 996.38,838.11 996.79,838.09 997.19,838.06 997.60,838.01 998.00,837.96 998.41,837.89 998.82,837.81 999.22,837.72 999.63,837.62 1000.04,837.51 1000.44,837.39 1000.85,837.25 1001.25,837.11 1001.66,836.96 1002.07,836.80 1002.47,836.64 1002.88,836.46 1003.29,836.28 1003.69,836.09 1004.10,835.89 1004.50,835.69 1004.91,835.49 1005.32,835.27 1005.72,835.06 1006.13,834.84 1006.54,834.61 1006.94,834.38 1007.35,834.15 1007.75,833.92 1008.16,833.68 1008.57,833.45 1008.97,833.21 1009.38,832.97 1009.79,832.73 1010.19,832.48 1010.60,832.24 1011.00,832.00 1011.41,831.76 1011.82,831.52 1012.22,831.28 1012.63,831.04 1013.04,830.80 1013.44,830.56 1013.85,830.33 1014.25,830.09 1014.66,829.86 1015.07,829.62 1015.47,829.39 1015.88,829.16 1016.28,828.93 1016.69,828.70 1017.10,828.47 1017.50,828.24 1017.91,828.01 1018.32,827.78 1018.72,827.55 1019.13,827.32 1019.53,827.09 1019.94,826.86 1020.35,826.63 1020.75,826.40 1021.16,826.17 1021.57,825.94 1021.97,825.71 1022.38,825.47 1022.78,825.24 1023.19,825.01 1023.60,824.78 1024.00,824.54 1024.41,824.31 1024.82,824.08 1025.22,823.84 1025.63,823.61 1026.03,823.39 1026.44,823.16 1026.85,822.94 1027.25,822.72 1027.66,822.50 1028.07,822.29 1028.47,822.08 1028.88,821.88 1029.28,821.68 1029.69,821.50 1030.10,821.32 1030.50,821.15 1030.91,820.99 1031.32,820.83 1031.72,820.69 1032.13,820.56 1032.53,820.45 1032.94,820.34 1033.35,820.25 1033.75,820.17 1034.16,820.11 1034.57,820.06 1034.97,820.03 1035.38,820.00 1035.78,820.00 1036.19,820.01 1036.60,820.03 1037.00,820.07 1037.41,820.13 1037.82,820.20 1038.22,820.28 1038.63,820.38 1039.03,820.49 1039.44,820.61 1039.85,820.75 1040.25,820.90 1040.66,821.06 1041.07,821.23 1041.47,821.42 1041.88,821.61 1042.28,821.81 1042.69,822.02 1043.10,822.24 1043.50,822.46 1043.91,822.69 1044.32,822.93 1044.72,823.18 1045.13,823.42 1045.53,823.68 1045.94,823.93 1046.35,824.19 1046.75,824.45 1047.16,824.72 1047.57,824.98 1047.97,825.25 1048.38,825.52 1048.78,825.78 1049.19,826.05 1049.60,826.32 1050.00,826.58 1050.41,826.85 1050.82,827.11 1051.22,827.38 1051.63,827.64 1052.03,827.89 1052.44,828.15 1052.85,828.40 1053.25,828.65 1053.66,828.90 1054.07,829.15 1054.47,829.39 1054.88,829.63 1055.28,829.86 1055.69,830.09 1056.10,830.32 1056.50,830.55 1056.91,830.77 1057.32,830.98 1057.72,831.20 1058.13,831.41 1058.53,831.61 1058.94,831.82 1059.35,832.02 1059.75,832.21 1060.16,832.41 1060.57,832.59 1060.97,832.78 1061.38,832.96 1061.78,833.14 1062.19,833.32 1062.60,833.49 1063.00,833.66 1063.41,833.82 1063.82,833.99 1064.22,834.15 1064.63,834.30 1065.03,834.46 1065.44,834.61 1065.85,834.76 1066.25,834.90 1066.66,835.05 1067.07,835.19 1067.47,835.32 1067.88,835.46 1068.28,835.59 1068.69,835.72 1069.10,835.84 1069.50,835.97 1069.91,836.09 1070.32,836.21 1070.72,836.32 1071.13,836.43 1071.53,836.54 1071.94,836.65 1072.35,836.75 1072.75,836.85 1073.16,836.94 1073.57,837.04 1073.97,837.13 1074.38,837.21 1074.78,837.29 1075.19,837.37 1075.60,837.44 1076.00,837.51 1076.41,837.57 1076.82,837.63 1077.22,837.69 1077.63,837.74 1078.03,837.78 1078.44,837.83 1078.85,837.86 1079.25,837.89 1079.66,837.91 1080.07,837.93 1080.47,837.94 1080.88,837.95 1081.28,837.95 1081.69,837.95 1082.10,837.93 1082.50,837.92 1082.91,837.89 1083.32,837.86 1083.72,837.82 1084.13,837.78 1084.53,837.73 1084.94,837.67 1085.35,837.61 1085.75,837.54 1086.16,837.47 1086.56,837.39 1086.97,837.30 1087.38,837.20 1087.78,837.10 1088.19,837.00 1088.60,836.88 1089.00,836.76 1089.41,836.64 1089.81,836.51 1090.22,836.37 1090.63,836.23 1091.03,836.09 1091.44,835.93 1091.85,835.78 1092.25,835.62 1092.66,835.45 1093.06,835.28 1093.47,835.10 1093.88,834.92 1094.28,834.74 1094.69,834.55 1095.10,834.36 1095.50,834.17 1095.91,833.97 1096.31,833.77 1096.72,833.56 1097.13,833.35 1097.53,833.14 1097.94,832.93 1098.35,832.72 1098.75,832.50 1099.16,832.28 1099.56,832.06 1099.97,831.83 1100.38,831.61 1100.78,831.38 1101.19,831.15 1101.60,830.93 1102.00,830.70 1102.41,830.47 1102.81,830.23 1103.22,830.00 1103.63,829.77 1104.03,829.54 1104.44,829.31 1104.85,829.07 1105.25,828.84 1105.66,828.61 1106.06,828.38 1106.47,828.15 1106.88,827.92 1107.28,827.69 1107.69,827.46 1108.10,827.23 1108.50,827.00 1108.91,826.77 1109.31,826.54 1109.72,826.32 1110.13,826.09 1110.53,825.87 1110.94,825.65 1111.35,825.43 1111.75,825.20 1112.16,824.98 1112.56,824.76 1112.97,824.54 1113.38,824.33 1113.78,824.11 1114.19,823.89 1114.60,823.68 1115.00,823.46 1115.41,823.24 1115.81,823.03 1116.22,822.82 1116.63,822.60 1117.03,822.39 1117.44,822.17 1117.85,821.96 1118.25,821.75 1118.66,821.53 1119.06,821.32 1119.47,821.11 1119.88,820.89 1120.28,820.68 1120.69,820.47 1121.10,820.26 1121.50,820.04 1121.91,819.83 1122.31,819.62 1122.72,819.41 1123.13,819.20 1123.53,818.99 1123.94,818.78 1124.35,818.57 1124.75,818.36 1125.16,818.16 1125.56,817.96 1125.97,817.75 1126.38,817.55 1126.78,817.35 1127.19,817.16 1127.60,816.97 1128.00,816.78 1128.41,816.59 1128.81,816.41 1129.22,816.23 1129.63,816.06 1130.03,815.89 1130.44,815.73 1130.85,815.58 1131.25,815.43 1131.66,815.29 1132.06,815.15 1132.47,815.03 1132.88,814.91 1133.28,814.80 1133.69,814.70 1134.10,814.61 1134.50,814.53 1134.91,814.46 1135.31,814.40 1135.72,814.35 1136.13,814.31 1136.53,814.28 1136.94,814.27 1137.35,814.26 1137.75,814.27 1138.16,814.29 1138.56,814.32 1138.97,814.37 1139.38,814.43 1139.78,814.50 1140.19,814.58 1140.60,814.68 1141.00,814.79 1141.41,814.91 1141.81,815.04 1142.22,815.18 1142.63,815.34 1143.03,815.51 1143.44,815.69 1143.85,815.88 1144.25,816.08 1144.66,816.30 1145.06,816.52 1145.47,816.76 1145.88,817.00 1146.28,817.25 1146.69,817.51 1147.10,817.78 1147.50,818.06 1147.91,818.35 1148.31,818.64 1148.72,818.95 1149.13,819.25 1149.53,819.57 1149.94,819.89 1150.35,820.21 1150.75,820.54 1151.16,820.87 1151.56,821.21 1151.97,821.56 1152.38,821.90 1152.78,822.25 1153.19,822.60 1153.59,822.95 1154.00,823.31 1154.41,823.67 1154.81,824.03 1155.22,824.39 1155.63,824.75 1156.03,825.11 1156.44,825.47 1156.84,825.83 1157.25,826.19 1157.66,826.55 1158.06,826.91 1158.47,827.26 1158.88,827.62 1159.28,827.97 1159.69,828.33 1160.09,828.68 1160.50,829.03 1160.91,829.37 1161.31,829.72 1161.72,830.06 1162.13,830.40 1162.53,830.73 1162.94,831.07 1163.34,831.39 1163.75,831.72 1164.16,832.04 1164.56,832.36 1164.97,832.68 1165.38,832.99 1165.78,833.29 1166.19,833.59 1166.59,833.89 1167.00,834.19 1167.41,834.47 1167.81,834.76 1168.22,835.04 1168.63,835.31 1169.03,835.58 1169.44,835.84 1169.84,836.10 1170.25,836.35 1170.66,836.60 1171.06,836.84 1171.47,837.08 1171.88,837.31 1172.28,837.53 1172.69,837.75 1173.09,837.96 1173.50,838.17 1173.91,838.37 1174.31,838.56 1174.72,838.75 1175.13,838.93 1175.53,839.10 1175.94,839.27 1176.34,839.43 1176.75,839.58 1177.16,839.73 1177.56,839.86 1177.97,840.00 1178.38,840.12 1178.78,840.24 1179.19,840.35 1179.59,840.46 1180.00,840.55 1180.41,840.64 1180.81,840.73 1181.22,840.80 1181.63,840.87 1182.03,840.94 1182.44,840.99 1182.84,841.04 1183.25,841.08 1183.66,841.12 1184.06,841.15 1184.47,841.17 1184.88,841.18 1185.28,841.19 1185.69,841.20 1186.09,841.19 1186.50,841.18 1186.91,841.16 1187.31,841.14 1187.72,841.11 1188.13,841.08 1188.53,841.04 1188.94,840.99 1189.34,840.94 1189.75,840.88 1190.16,840.82 1190.56,840.75 1190.97,840.68 1191.38,840.60 1191.78,840.52 1192.19,840.43 1192.59,840.34 1193.00,840.24 1193.41,840.14 1193.81,840.04 1194.22,839.93 1194.63,839.81 1195.03,839.70 1195.44,839.57 1195.84,839.45 1196.25,839.32 1196.66,839.19 1197.06,839.05 1197.47,838.91 1197.88,838.77 1198.28,838.63 1198.69,838.48 1199.09,838.33 1199.50,838.18 1199.91,838.03 1200.31,837.87 1200.72,837.71 1201.13,837.55 1201.53,837.38 1201.94,837.22 1202.34,837.05 1202.75,836.88 1203.16,836.72 1203.56,836.54 1203.97,836.37 1204.38,836.20 1204.78,836.02 1205.19,835.85 1205.59,835.67 1206.00,835.49 1206.41,835.32 1206.81,835.14 1207.22,834.96 1207.63,834.78 1208.03,834.60 1208.44,834.42 1208.84,834.24 1209.25,834.06 1209.66,833.89 1210.06,833.71 1210.47,833.53 1210.88,833.35 1211.28,833.17 1211.69,833.00 1212.09,832.82 1212.50,832.64 1212.91,832.47 1213.31,832.29 1213.72,832.12 1214.13,831.95 1214.53,831.78 1214.94,831.61 1215.34,831.44 1215.75,831.27 1216.16,831.11 1216.56,830.94 1216.97,830.78 1217.38,830.62 1217.78,830.45 1218.19,830.30 1218.59,830.14 1219.00,829.98 1219.41,829.83 1219.81,829.68 1220.22,829.52 1220.62,829.38 1221.03,829.23 1221.44,829.08 1221.84,828.94 1222.25,828.80 1222.66,828.65 1223.06,828.52 1223.47,828.38 1223.87,828.24 1224.28,828.11 1224.69,827.98 1225.09,827.85 1225.50,827.72 1225.91,827.60 1226.31,827.47 1226.72,827.35 1227.12,827.23 1227.53,827.11 1227.94,826.99 1228.34,826.87 1228.75,826.76 1229.16,826.65 1229.56,826.54 1229.97,826.43 1230.37,826.32 1230.78,826.21 1231.19,826.11 1231.59,826.00 1232.00,825.90 1232.41,825.80 1232.81,825.70 1233.22,825.60 1233.62,825.50 1234.03,825.41 1234.44,825.31 1234.84,825.22 1235.25,825.13 1235.66,825.03 1236.06,824.94 1236.47,824.85 1236.87,824.76 1237.28,824.67 1237.69,824.59 1238.09,824.50 1238.50,824.41 1238.91,824.33 1239.31,824.24 1239.72,824.16 1240.12,824.07 1240.53,823.99 1240.94,823.90 1241.34,823.82 1241.75,823.74 1242.16,823.65 1242.56,823.57 1242.97,823.49 1243.37,823.40 1243.78,823.32 1244.19,823.24 1244.59,823.15 1245.00,823.07 1245.41,822.99 1245.81,822.90 1246.22,822.82 1246.62,822.73 1247.03,822.65 1247.44,822.56 1247.84,822.48 1248.25,822.39 1248.66,822.31 1249.06,822.22 1249.47,822.13 1249.87,822.05 1250.28,821.96 1250.69,821.87 1251.09,821.79 1251.50,821.70 1251.91,821.61 1252.31,821.52 1252.72,821.43 1253.12,821.34 1253.53,821.25 1253.94,821.16 1254.34,821.07 1254.75,820.98 1255.16,820.89 1255.56,820.80 1255.97,820.71 1256.37,820.62 1256.78,820.53 1257.19,820.44 1257.59,820.35 1258.00,820.26 1258.41,820.17 1258.81,820.08 1259.22,819.99 1259.62,819.90 1260.03,819.81 1260.44,819.72 1260.84,819.64 1261.25,819.55 1261.66,819.46 1262.06,819.38 1262.47,819.30 1262.87,819.21 1263.28,819.13 1263.69,819.05 1264.09,818.97 1264.50,818.90 1264.91,818.82 1265.31,818.75 1265.72,818.67 1266.12,818.60 1266.53,818.53 1266.94,818.46 1267.34,818.40 1267.75,818.34 1268.16,818.28 1268.56,818.22 1268.97,818.16 1269.37,818.11 1269.78,818.06 1270.19,818.01 1270.59,817.96 1271.00,817.92 1271.41,817.89 1271.81,817.86 1272.22,817.83 1272.62,817.80 1273.03,817.78 1273.44,817.76 1273.84,817.74 1274.25,817.73 1274.66,817.72 1275.06,817.72 1275.47,817.72 1275.87,817.72 1276.28,817.73 1276.69,817.74 1277.09,817.75 1277.50,817.77 1277.91,817.80 1278.31,817.83 1278.72,817.86 1279.12,817.89 1279.53,817.94 1279.94,817.98 1280.34,818.03 1280.75,818.08 1281.16,818.14 1281.56,818.21 1281.97,818.27 1282.37,818.35 1282.78,818.42 1283.19,818.51 1283.59,818.59 1284.00,818.68 1284.41,818.78 1284.81,818.88 1285.22,818.99 1285.62,819.10 1286.03,819.21 1286.44,819.33 1286.84,819.45 1287.25,819.58 1287.65,819.71 1288.06,819.85 1288.47,819.99 1288.87,820.14 1289.28,820.28 1289.69,820.44 1290.09,820.60 1290.50,820.76 1290.90,820.92 1291.31,821.09 1291.72,821.27 1292.12,821.45 1292.53,821.63 1292.94,821.81 1293.34,822.00 1293.75,822.19 1294.15,822.39 1294.56,822.59 1294.97,822.79 1295.37,822.99 1295.78,823.20 1296.19,823.41 1296.59,823.63 1297.00,823.85 1297.40,824.07 1297.81,824.29 1298.22,824.51 1298.62,824.74 1299.03,824.97 1299.44,825.20 1299.84,825.44 1300.25,825.67 1300.65,825.91 1301.06,826.15 1301.47,826.39 1301.87,826.63 1302.28,826.88 1302.69,827.13 1303.09,827.37 1303.50,827.62 1303.90,827.88 1304.31,828.13 1304.72,828.38 1305.12,828.63 1305.53,828.89 1305.94,829.15 1306.34,829.40 1306.75,829.66 1307.15,829.92 1307.56,830.18 1307.97,830.44 1308.37,830.70 1308.78,830.96 1309.19,831.22 1309.59,831.47 1310.00,831.73 1310.40,831.99 1310.81,832.25 1311.22,832.51 1311.62,832.77 1312.03,833.03 1312.44,833.29 1312.84,833.55 1313.25,833.80 1313.65,834.06 1314.06,834.31 1314.47,834.57 1314.87,834.82 1315.28,835.07 1315.69,835.32 1316.09,835.57 1316.50,835.81 1316.90,836.06 1317.31,836.30 1317.72,836.54 1318.12,836.78 1318.53,837.02 1318.94,837.25 1319.34,837.48 1319.75,837.71 1320.15,837.94 1320.56,838.16 1320.97,838.38 1321.37,838.60 1321.78,838.82 1322.19,839.03 1322.59,839.24 1323.00,839.44 1323.40,839.64 1323.81,839.84 1324.22,840.03 1324.62,840.22 1325.03,840.41 1325.44,840.59 1325.84,840.77 1326.25,840.94 1326.65,841.11 1327.06,841.27 1327.47,841.43 1327.87,841.58 1328.28,841.73 1328.69,841.88 1329.09,842.01 1329.50,842.15 1329.90,842.28 1330.31,842.40 1330.72,842.52 1331.12,842.63 1331.53,842.74 1331.94,842.84 1332.34,842.94 1332.75,843.03 1333.15,843.11 1333.56,843.19 1333.97,843.26 1334.37,843.33 1334.78,843.39 1335.19,843.45 1335.59,843.50 1336.00,843.54 1336.40,843.58 1336.81,843.62 1337.22,843.64 1337.62,843.67 1338.03,843.68 1338.44,843.69 1338.84,843.70 1339.25,843.70 1339.65,843.69 1340.06,843.68 1340.47,843.66 1340.87,843.64 1341.28,843.61 1341.69,843.58 1342.09,843.54 1342.50,843.49 1342.90,843.44 1343.31,843.39 1343.72,843.33 1344.12,843.27 1344.53,843.20 1344.94,843.13 1345.34,843.05 1345.75,842.97 1346.15,842.88 1346.56,842.79 1346.97,842.69 1347.37,842.60 1347.78,842.49 1348.19,842.39 1348.59,842.27 1349.00,842.16 1349.40,842.04 1349.81,841.92 1350.22,841.79 1350.62,841.66 1351.03,841.53 1351.44,841.40 1351.84,841.26 1352.25,841.12 1352.65,840.97 1353.06,840.83 1353.47,840.68 1353.87,840.52 1354.28,840.37 1354.68,840.21 1355.09,840.05 1355.50,839.89 1355.90,839.72 1356.31,839.56 1356.72,839.39 1357.12,839.22 1357.53,839.04 1357.93,838.87 1358.34,838.69 1358.75,838.51 1359.15,838.33 1359.56,838.15 1359.97,837.97 1360.37,837.79 1360.78,837.60 1361.18,837.42 1361.59,837.23 1362.00,837.04 1362.40,836.85 1362.81,836.66 1363.22,836.47 1363.62,836.28 1364.03,836.09 1364.43,835.90 1364.84,835.71 1365.25,835.51 1365.65,835.32 1366.06,835.13 1366.47,834.93 1366.87,834.74 1367.28,834.55 1367.68,834.35 1368.09,834.16 1368.50,833.97 1368.90,833.77 1369.31,833.58 1369.72,833.39 1370.12,833.20 1370.53,833.01 1370.93,832.82 1371.34,832.63 1371.75,832.44 1372.15,832.25 1372.56,832.07 1372.97,831.88 1373.37,831.70 1373.78,831.51 1374.18,831.33 1374.59,831.15 1375.00,830.97 1375.40,830.79 1375.81,830.62 1376.22,830.44 1376.62,830.27 1377.03,830.10 1377.43,829.93 1377.84,829.76 1378.25,829.59 1378.65,829.43 1379.06,829.27 1379.47,829.11 1379.87,828.95 1380.28,828.79 1380.68,828.64 1381.09,828.48 1381.50,828.33 1381.90,828.18 1382.31,828.04 1382.72,827.89 1383.12,827.75 1383.53,827.61 1383.93,827.48 1384.34,827.34 1384.75,827.21 1385.15,827.08 1385.56,826.95 1385.97,826.82 1386.37,826.70 1386.78,826.58 1387.18,826.46 1387.59,826.34 1388.00,826.22 1388.40,826.11 1388.81,826.00 1389.22,825.89 1389.62,825.78 1390.03,825.68 1390.43,825.58 1390.84,825.48 1391.25,825.38 1391.65,825.28 1392.06,825.19 1392.47,825.09 1392.87,825.00 1393.28,824.91 1393.68,824.83 1394.09,824.74 1394.50,824.66 1394.90,824.58 1395.31,824.50 1395.72,824.42 1396.12,824.34 1396.53,824.27 1396.93,824.19 1397.34,824.12 1397.75,824.05 1398.15,823.98 1398.56,823.91 1398.97,823.84 1399.37,823.78 1399.78,823.71 1400.18,823.65 1400.59,823.58 1401.00,823.52 1401.40,823.46 1401.81,823.40 1402.22,823.34 1402.62,823.29 1403.03,823.23 1403.43,823.17 1403.84,823.12 1404.25,823.06 1404.65,823.01 1405.06,822.95 1405.47,822.90 1405.87,822.85 1406.28,822.79 1406.68,822.74 1407.09,822.69 1407.50,822.64 1407.90,822.59 1408.31,822.54 1408.72,822.49 1409.12,822.44 1409.53,822.39 1409.93,822.34 1410.34,822.29 1410.75,822.24 1411.15,822.19 1411.56,822.14 1411.97,822.10 1412.37,822.05 1412.78,822.00 1413.18,821.95 1413.59,821.90 1414.00,821.85 1414.40,821.80 1414.81,821.75 1415.22,821.71 1415.62,821.66 1416.03,821.61 1416.43,821.56 1416.84,821.51 1417.25,821.46 1417.65,821.41 1418.06,821.36 1418.47,821.31 1418.87,821.26 1419.28,821.21 1419.68,821.16 1420.09,821.11 1420.50,821.06 1420.90,821.01 1421.31,820.96 1421.72,820.91 1422.12,820.86 1422.53,820.81 1422.93,820.76 1423.34,820.71 1423.75,820.66 1424.15,820.61 1424.56,820.56 1424.96,820.50 1425.37,820.45 1425.78,820.40 1426.18,820.35 1426.59,820.30 1427.00,820.25 1427.40,820.20 1427.81,820.15 1428.21,820.10 1428.62,820.05 1429.03,820.00 1429.43,819.95 1429.84,819.90 1430.25,819.85 1430.65,819.80 1431.06,819.76 1431.46,819.71 1431.87,819.66 1432.28,819.61 1432.68,819.56 1433.09,819.52 1433.50,819.47 1433.90,819.43 1434.31,819.38 1434.71,819.33 1435.12,819.29 1435.53,819.25 1435.93,819.20 1436.34,819.16 1436.75,819.12 1437.15,819.07 1437.56,819.03 1437.96,818.99 1438.37,818.95 1438.78,818.91 1439.18,818.87 1439.59,818.83 1440.00,818.79 1440.40,818.76 1440.81,818.72 1441.21,818.68 1441.62,818.65 1442.03,818.61 1442.43,818.58 1442.84,818.55 1443.25,818.51 1443.65,818.48 1444.06,818.45 1444.46,818.42 1444.87,818.39 1445.28,818.36 1445.68,818.34 1446.09,818.31 1446.50,818.28 1446.90,818.26 1447.31,818.23 1447.71,818.21 1448.12,818.18 1448.53,818.16 1448.93,818.14 1449.34,818.12 1449.75,818.10 1450.15,818.08 1450.56,818.06 1450.96,818.05 1451.37,818.03 1451.78,818.01 1452.18,818.00 1452.59,817.98 1453.00,817.97 1453.40,817.96 1453.81,817.95 1454.21,817.94 1454.62,817.93 1455.03,817.92 1455.43,817.91 1455.84,817.90 1456.25,817.90 1456.65,817.89 1457.06,817.89 1457.46,817.89 1457.87,817.88 1458.28,817.88 1458.68,817.88 1459.09,817.88 1459.50,817.88 1459.90,817.89 1460.31,817.89 1460.71,817.89 1461.12,817.90 1461.53,817.90 1461.93,817.91 1462.34,817.92 1462.75,817.93 1463.15,817.94 1463.56,817.95 1463.96,817.96 1464.37,817.98 1464.78,817.99 1465.18,818.01 1465.59,818.02 1466.00,818.04 1466.40,818.06 1466.81,818.08 1467.21,818.10 1467.62,818.12 1468.03,818.14 1468.43,818.17 1468.84,818.19 1469.25,818.22 1469.65,818.25 1470.06,818.28 1470.46,818.31 1470.87,818.34 1471.28,818.37 1471.68,818.40 1472.09,818.44 1472.50,818.48 1472.90,818.51 1473.31,818.55 1473.71,818.59 1474.12,818.63 1474.53,818.68 1474.93,818.72 1475.34,818.77 1475.75,818.81 1476.15,818.86 1476.56,818.91 1476.96,818.96 1477.37,819.02 1477.78,819.07 1478.18,819.13 1478.59,819.18 1479.00,819.24 1479.40,819.30 1479.81,819.37 1480.21,819.43 1480.62,819.49 1481.03,819.56 1481.43,819.63 1481.84,819.70 1482.25,819.77 1482.65,819.84 1483.06,819.92 1483.46,819.99 1483.87,820.07 1484.28,820.15 1484.68,820.23 1485.09,820.31 1485.50,820.40 1485.90,820.48 1486.31,820.57 1486.71,820.66 1487.12,820.75 1487.53,820.84 1487.93,820.93 1488.34,821.03 1488.75,821.13 1489.15,821.23 1489.56,821.33 1489.96,821.43 1490.37,821.53 1490.78,821.64 1491.18,821.75 1491.59,821.86 1491.99,821.97 1492.40,822.08 1492.81,822.19 1493.21,822.31 1493.62,822.43 1494.03,822.54 1494.43,822.66 1494.84,822.79 1495.24,822.91 1495.65,823.04 1496.06,823.16 1496.46,823.29 1496.87,823.42 1497.28,823.55 1497.68,823.69 1498.09,823.82 1498.49,823.96 1498.90,824.09 1499.31,824.23 1499.71,824.37 1500.12,824.51 1500.53,824.66 1500.93,824.80 1501.34,824.95 1501.74,825.10 1502.15,825.25 1502.56,825.40 1502.96,825.55 1503.37,825.70 1503.78,825.85 1504.18,826.01 1504.59,826.17 1504.99,826.33 1505.40,826.48 1505.81,826.64 1506.21,826.81 1506.62,826.97 1507.03,827.13 1507.43,827.30 1507.84,827.46 1508.24,827.63 1508.65,827.80 1509.06,827.97 1509.46,828.14 1509.87,828.31 1510.28,828.48 1510.68,828.65 1511.09,828.83 1511.49,829.00 1511.90,829.18 1512.31,829.36 1512.71,829.53 1513.12,829.71 1513.53,829.89 1513.93,830.07 1514.34,830.25 1514.74,830.43 1515.15,830.61 1515.56,830.79 1515.96,830.97 1516.37,831.15 1516.78,831.34 1517.18,831.52 1517.59,831.70 1517.99,831.89 1518.40,832.07 1518.81,832.26 1519.21,832.44 1519.62,832.63 1520.03,832.81 1520.43,833.00 1520.84,833.18 1521.24,833.37 1521.65,833.55 1522.06,833.74 1522.46,833.92 1522.87,834.11 1523.28,834.29 1523.68,834.48 1524.09,834.66 1524.49,834.84 1524.90,835.03 1525.31,835.21 1525.71,835.39 1526.12,835.57 1526.53,835.75 1526.93,835.93 1527.34,836.11 1527.74,836.29 1528.15,836.47 1528.56,836.65 1528.96,836.83 1529.37,837.00 1529.78,837.18 1530.18,837.35 1530.59,837.52 1530.99,837.69 1531.40,837.86 1531.81,838.03 1532.21,838.20 1532.62,838.37 1533.03,838.53 1533.43,838.69 1533.84,838.86 1534.24,839.02 1534.65,839.17 1535.06,839.33 1535.46,839.49 1535.87,839.64 1536.28,839.79 1536.68,839.94 1537.09,840.09 1537.49,840.23 1537.90,840.38 1538.31,840.52 1538.71,840.66 1539.12,840.80 1539.53,840.93 1539.93,841.07 1540.34,841.20 1540.74,841.33 1541.15,841.45 1541.56,841.58 1541.96,841.70 1542.37,841.82 1542.78,841.93 1543.18,842.05 1543.59,842.16 1543.99,842.27 1544.40,842.38 1544.81,842.48 1545.21,842.58 1545.62,842.68 1546.03,842.77 1546.43,842.87 1546.84,842.96 1547.24,843.05 1547.65,843.13 1548.06,843.21 1548.46,843.29 1548.87,843.37 1549.28,843.44 1549.68,843.51 1550.09,843.58 1550.49,843.64 1550.90,843.71 1551.31,843.77 1551.71,843.82 1552.12,843.88 1552.53,843.93 1552.93,843.97 1553.34,844.02 1553.74,844.06 1554.15,844.10 1554.56,844.14 1554.96,844.17 1555.37,844.20 1555.78,844.23 1556.18,844.25 1556.59,844.27 1556.99,844.29 1557.40,844.31" fill="none" stroke="#1f77b4" stroke-width="2.083" stroke-linejoin="round" stroke-linecap="square"/></g>
<path d="M225.5 589.5H1620.5V856.5H225.5Z" fill="none" stroke="#000" stroke-width="1.111" stroke-linecap="square" stroke-linejoin="miter"/>
<path d="M288.40 856.50v4.86M542.20 856.50v4.86M796.00 856.50v4.86M1049.80 856.50v4.86M1303.60 856.50v4.86M1557.40 856.50v4.86" stroke="#000" stroke-width="1.111"/>
<text x="288.40" y="890.74" font-size="35.33" text-anchor="middle" textLength="21.21" lengthAdjust="spacingAndGlyphs">0</text>
<text x="542.20" y="890.74" font-size="35.33" text-anchor="middle" textLength="84.83" lengthAdjust="spacingAndGlyphs">1000</text>
<text x="796.00" y="890.74" font-size="35.33" text-anchor="middle" textLength="84.83" lengthAdjust="spacingAndGlyphs">2000</text>
<text x="1049.80" y="890.74" font-size="35.33" text-anchor="middle" textLength="84.83" lengthAdjust="spacingAndGlyphs">3000</text>
<text x="1303.60" y="890.74" font-size="35.33" text-anchor="middle" textLength="84.83" lengthAdjust="spacingAndGlyphs">4000</text>
<text x="1557.40" y="890.74" font-size="35.33" text-anchor="middle" textLength="84.83" lengthAdjust="spacingAndGlyphs">5000</text>
<path d="M225.50 844.40h-4.86M225.50 676.20h-4.86" stroke="#000" stroke-width="1.111"/>
<text x="213.30" y="857.07" font-size="35.33" text-anchor="end" textLength="53.01" lengthAdjust="spacingAndGlyphs">0.0</text>
<text x="213.30" y="688.87" font-size="35.33" text-anchor="end" textLength="53.01" lengthAdjust="spacingAndGlyphs">0.2</text>
<text x="922.50" y="928.56" font-size="35.33" text-anchor="middle" textLength="417.89" lengthAdjust="spacingAndGlyphs">Rotational Period (Hours)</text>
<text x="147.28" y="722.92" font-size="35.33" text-anchor="middle" textLength="162.55" lengthAdjust="spacingAndGlyphs" transform="rotate(-90 147.28 722.92)">L-S Power</text>
<text x="922.20" y="627.00" font-size="35.33" text-anchor="start" textLength="274.12" lengthAdjust="spacingAndGlyphs">Period: 16.358 h</text>
<g id="p3">
<path d="M301.30 1084.10V1155.70M373.30 1068.10V1130.80M469.30 1036.20V1100.80M466.20 1073.20V1157.70M564.40 1051.10V1142.80M568.50 1052.20V1126.10M569.20 1088.70V1126.10M582.30 1080.20V1134.70M692.40 1064.20V1116.80M764.50 986.90V1036.70M781.40 1074.00V1116.80M889.40 1071.20V1127.70M945.40 1093.10V1184.40M953.20 1077.10V1160.60M1042.40 1059.20V1149.80M1173.20 1097.00V1149.80M1173.20 1170.00V1216.60M1189.10 1135.00V1177.80M1226.40 1065.00V1126.60M1276.20 1016.00V1086.00M1323.20 1079.60V1162.70M1413.30 1038.20V1093.80M1419.20 1053.00V1092.70M1541.40 1035.10V1125.60M1544.50 1043.20V1093.20M1553.30 1056.10V1105.90" stroke="#006c23" stroke-width="2.083" fill="none"/>
<path d="M292.10 1047.90V1095.00M376.40 1095.00V1129.70M387.30 1086.90V1137.80M427.30 1074.00V1132.60M494.40 1069.00V1094.70M540.20 1091.90V1145.60M564.40 1084.10V1121.80M616.20 1086.90V1144.80M636.40 1037.10V1112.60M644.20 1092.20V1126.60M685.40 974.00V1010.70M818.20 1065.00V1130.80M832.40 990.00V1033.90M930.40 1056.10V1126.60M942.30 1123.00V1171.70M989.80 1069.80V1152.60M988.50 1077.90V1145.60M1084.40 1145.10V1169.70M1097.30 1141.20V1183.70M1138.20 1081.00V1147.60M1146.30 1065.90V1106.70M1168.40 1084.90V1144.80M1197.20 1049.10V1129.70M1207.30 1098.10V1136.70M1323.20 1055.00V1105.10M1371.30 1045.20V1109.80M1397.30 1060.00V1092.70M1438.50 1062.00V1117.60M1469.30 1053.00V1094.70M1479.40 1071.20V1113.70M1491.60 1074.00V1127.70" stroke="#7d0745" stroke-width="2.083" fill="none"/>
<polyline points="288.30,1096.25 291.48,1097.12 294.66,1097.98 297.84,1098.85 301.02,1099.71 304.20,1100.57 307.38,1101.43 310.56,1102.27 313.74,1103.12 316.92,1103.95 320.10,1104.78 323.28,1105.60 326.46,1106.42 329.64,1107.22 332.82,1108.01 336.00,1108.79 339.18,1109.55 342.36,1110.31 345.54,1111.04 348.72,1111.77 351.90,1112.48 355.08,1113.17 358.26,1113.85 361.44,1114.51 364.62,1115.15 367.80,1115.77 370.98,1116.37 374.16,1116.95 377.34,1117.52 380.52,1118.06 383.70,1118.58 386.88,1119.07 390.06,1119.55 393.24,1120.00 396.42,1120.43 399.60,1120.83 402.78,1121.21 405.96,1121.57 409.13,1121.90 412.31,1122.20 415.49,1122.48 418.67,1122.73 421.85,1122.96 425.03,1123.16 428.21,1123.33 431.39,1123.48 434.57,1123.60 437.75,1123.69 440.93,1123.75 444.11,1123.79 447.29,1123.80 450.47,1123.78 453.65,1123.74 456.83,1123.67 460.01,1123.57 463.19,1123.44 466.37,1123.29 469.55,1123.11 472.73,1122.90 475.91,1122.67 479.09,1122.41 482.27,1122.13 485.45,1121.82 488.63,1121.48 491.81,1121.12 494.99,1120.73 498.17,1120.32 501.35,1119.89 504.53,1119.43 507.71,1118.95 510.89,1118.45 514.07,1117.92 517.25,1117.38 520.43,1116.81 523.61,1116.22 526.79,1115.62 529.97,1114.99 533.15,1114.34 536.33,1113.68 539.51,1113.00 542.69,1112.30 545.87,1111.59 549.05,1110.86 552.23,1110.12 555.41,1109.36 558.59,1108.59 561.77,1107.81 564.95,1107.02 568.13,1106.21 571.31,1105.40 574.49,1104.58 577.67,1103.75 580.85,1102.91 584.03,1102.06 587.21,1101.21 590.39,1100.36 593.57,1099.50 596.75,1098.63 599.93,1097.77 603.11,1096.90 606.29,1096.03 609.47,1095.17 612.65,1094.30 615.83,1093.43 619.01,1092.57 622.19,1091.72 625.37,1090.86 628.55,1090.01 631.73,1089.17 634.91,1088.34 638.09,1087.51 641.27,1086.69 644.45,1085.88 647.63,1085.08 650.80,1084.30 653.98,1083.52 657.16,1082.76 660.34,1082.01 663.52,1081.27 666.70,1080.55 669.88,1079.85 673.06,1079.16 676.24,1078.49 679.42,1077.83 682.60,1077.20 685.78,1076.58 688.96,1075.98 692.14,1075.40 695.32,1074.85 698.50,1074.31 701.68,1073.80 704.86,1073.31 708.04,1072.84 711.22,1072.39 714.40,1071.97 717.58,1071.57 720.76,1071.20 723.94,1070.85 727.12,1070.53 730.30,1070.23 733.48,1069.96 736.66,1069.71 739.84,1069.49 743.02,1069.30 746.20,1069.13 749.38,1068.99 752.56,1068.88 755.74,1068.79 758.92,1068.74 762.10,1068.71 765.28,1068.70 768.46,1068.73 771.64,1068.78 774.82,1068.86 778.00,1068.96 781.18,1069.09 784.36,1069.25 787.54,1069.44 790.72,1069.65 793.90,1069.89 797.08,1070.16 800.26,1070.45 803.44,1070.77 806.62,1071.11 809.80,1071.48 812.98,1071.87 816.16,1072.28 819.34,1072.72 822.52,1073.19 825.70,1073.67 828.88,1074.18 832.06,1074.71 835.24,1075.26 838.42,1075.83 841.60,1076.43 844.78,1077.04 847.96,1077.67 851.14,1078.32 854.32,1078.99 857.50,1079.67 860.68,1080.37 863.86,1081.09 867.04,1081.82 870.22,1082.57 873.40,1083.33 876.58,1084.10 879.76,1084.89 882.94,1085.68 886.12,1086.49 889.30,1087.30 892.47,1088.13 895.65,1088.96 898.83,1089.80 902.01,1090.65 905.19,1091.50 908.37,1092.36 911.55,1093.22 914.73,1094.08 917.91,1094.95 921.09,1095.82 924.27,1096.68 927.45,1097.55 930.63,1098.42 933.81,1099.28 936.99,1100.14 940.17,1101.00 943.35,1101.85 946.53,1102.70 949.71,1103.54 952.89,1104.37 956.07,1105.20 959.25,1106.01 962.43,1106.82 965.61,1107.61 968.79,1108.40 971.97,1109.17 975.15,1109.93 978.33,1110.68 981.51,1111.41 984.69,1112.13 987.87,1112.83 991.05,1113.51 994.23,1114.18 997.41,1114.83 1000.59,1115.46 1003.77,1116.07 1006.95,1116.67 1010.13,1117.24 1013.31,1117.79 1016.49,1118.32 1019.67,1118.83 1022.85,1119.31 1026.03,1119.78 1029.21,1120.22 1032.39,1120.63 1035.57,1121.02 1038.75,1121.39 1041.93,1121.73 1045.11,1122.05 1048.29,1122.34 1051.47,1122.61 1054.65,1122.85 1057.83,1123.06 1061.01,1123.25 1064.19,1123.41 1067.37,1123.54 1070.55,1123.64 1073.73,1123.72 1076.91,1123.77 1080.09,1123.80 1083.27,1123.79 1086.45,1123.76 1089.63,1123.71 1092.81,1123.62 1095.99,1123.51 1099.17,1123.37 1102.35,1123.20 1105.53,1123.01 1108.71,1122.79 1111.89,1122.54 1115.07,1122.27 1118.25,1121.97 1121.43,1121.65 1124.61,1121.30 1127.79,1120.93 1130.97,1120.53 1134.14,1120.11 1137.32,1119.66 1140.50,1119.19 1143.68,1118.70 1146.86,1118.19 1150.04,1117.65 1153.22,1117.10 1156.40,1116.52 1159.58,1115.92 1162.76,1115.30 1165.94,1114.67 1169.12,1114.01 1172.30,1113.34 1175.48,1112.65 1178.66,1111.95 1181.84,1111.23 1185.02,1110.49 1188.20,1109.74 1191.38,1108.98 1194.56,1108.20 1197.74,1107.42 1200.92,1106.62 1204.10,1105.81 1207.28,1104.99 1210.46,1104.16 1213.64,1103.33 1216.82,1102.49 1220.00,1101.64 1223.18,1100.78 1226.36,1099.93 1229.54,1099.07 1232.72,1098.20 1235.90,1097.33 1239.08,1096.47 1242.26,1095.60 1245.44,1094.73 1248.62,1093.87 1251.80,1093.00 1254.98,1092.14 1258.16,1091.29 1261.34,1090.44 1264.52,1089.59 1267.70,1088.75 1270.88,1087.92 1274.06,1087.10 1277.24,1086.29 1280.42,1085.48 1283.60,1084.69 1286.78,1083.91 1289.96,1083.14 1293.14,1082.38 1296.32,1081.64 1299.50,1080.91 1302.68,1080.20 1305.86,1079.50 1309.04,1078.82 1312.22,1078.16 1315.40,1077.51 1318.58,1076.88 1321.76,1076.28 1324.94,1075.69 1328.12,1075.12 1331.30,1074.58 1334.48,1074.05 1337.66,1073.55 1340.84,1073.07 1344.02,1072.61 1347.20,1072.18 1350.38,1071.77 1353.56,1071.38 1356.74,1071.02 1359.92,1070.68 1363.10,1070.37 1366.28,1070.09 1369.46,1069.83 1372.64,1069.60 1375.81,1069.39 1378.99,1069.21 1382.17,1069.06 1385.35,1068.93 1388.53,1068.83 1391.71,1068.76 1394.89,1068.72 1398.07,1068.70 1401.25,1068.71 1404.43,1068.75 1407.61,1068.81 1410.79,1068.90 1413.97,1069.02 1417.15,1069.17 1420.33,1069.34 1423.51,1069.54 1426.69,1069.77 1429.87,1070.02 1433.05,1070.30 1436.23,1070.60 1439.41,1070.93 1442.59,1071.29 1445.77,1071.67 1448.95,1072.07 1452.13,1072.50 1455.31,1072.95 1458.49,1073.43 1461.67,1073.92 1464.85,1074.44 1468.03,1074.98 1471.21,1075.55 1474.39,1076.13 1477.57,1076.73 1480.75,1077.35 1483.93,1077.99 1487.11,1078.65 1490.29,1079.33 1493.47,1080.02 1496.65,1080.73 1499.83,1081.46 1503.01,1082.19 1506.19,1082.95 1509.37,1083.71 1512.55,1084.49 1515.73,1085.28 1518.91,1086.08 1522.09,1086.90 1525.27,1087.72 1528.45,1088.55 1531.63,1089.38 1534.81,1090.23 1537.99,1091.07 1541.17,1091.93 1544.35,1092.79 1547.53,1093.65 1550.71,1094.52 1553.89,1095.38 1557.07,1096.25" fill="none" stroke="#1f77b4" stroke-width="2.083" stroke-linecap="square" stroke-linejoin="round"/>
<circle cx="301.30" cy="1120.20" r="4.167" fill="#177938" stroke="#000" stroke-width="1.389"/>
<circle cx="373.30" cy="1099.20" r="4.167" fill="#177938" stroke="#000" stroke-width="1.389"/>
<circle cx="469.30" cy="1069.30" r="4.167" fill="#177938" stroke="#000" stroke-width="1.389"/>
<circle cx="466.20" cy="1116.30" r="4.167" fill="#177938" stroke="#000" stroke-width="1.389"/>
<circle cx="564.40" cy="1097.30" r="4.167" fill="#177938" stroke="#000" stroke-width="1.389"/>
<circle cx="568.50" cy="1090.30" r="4.167" fill="#177938" stroke="#000" stroke-width="1.389"/>
<circle cx="569.20" cy="1107.40" r="4.167" fill="#177938" stroke="#000" stroke-width="1.389"/>
<circle cx="582.30" cy="1107.40" r="4.167" fill="#177938" stroke="#000" stroke-width="1.389"/>
<circle cx="692.40" cy="1090.30" r="4.167" fill="#177938" stroke="#000" stroke-width="1.389"/>
<circle cx="764.50" cy="1012.20" r="4.167" fill="#177938" stroke="#000" stroke-width="1.389"/>
<circle cx="781.40" cy="1096.10" r="4.167" fill="#177938" stroke="#000" stroke-width="1.389"/>
<circle cx="889.40" cy="1099.20" r="4.167" fill="#177938" stroke="#000" stroke-width="1.389"/>
<circle cx="945.40" cy="1139.00" r="4.167" fill="#177938" stroke="#000" stroke-width="1.389"/>
<circle cx="953.20" cy="1119.40" r="4.167" fill="#177938" stroke="#000" stroke-width="1.389"/>
<circle cx="1042.40" cy="1104.30" r="4.167" fill="#177938" stroke="#000" stroke-width="1.389"/>
<circle cx="1173.20" cy="1124.20" r="4.167" fill="#177938" stroke="#000" stroke-width="1.389"/>
<circle cx="1173.20" cy="1193.30" r="4.167" fill="#177938" stroke="#000" stroke-width="1.389"/>
<circle cx="1189.10" cy="1156.10" r="4.167" fill="#177938" stroke="#000" stroke-width="1.389"/>
<circle cx="1226.40" cy="1096.10" r="4.167" fill="#177938" stroke="#000" stroke-width="1.389"/>
<circle cx="1276.20" cy="1051.10" r="4.167" fill="#177938" stroke="#000" stroke-width="1.389"/>
<circle cx="1323.20" cy="1121.10" r="4.167" fill="#177938" stroke="#000" stroke-width="1.389"/>
<circle cx="1413.30" cy="1066.20" r="4.167" fill="#177938" stroke="#000" stroke-width="1.389"/>
<circle cx="1419.20" cy="1073.20" r="4.167" fill="#177938" stroke="#000" stroke-width="1.389"/>
<circle cx="1541.40" cy="1080.50" r="4.167" fill="#177938" stroke="#000" stroke-width="1.389"/>
<circle cx="1544.50" cy="1068.20" r="4.167" fill="#177938" stroke="#000" stroke-width="1.389"/>
<circle cx="1553.30" cy="1081.30" r="4.167" fill="#177938" stroke="#000" stroke-width="1.389"/>
<circle cx="292.10" cy="1072.40" r="4.167" fill="#8a2257" stroke="#000" stroke-width="1.389"/>
<circle cx="376.40" cy="1113.20" r="4.167" fill="#8a2257" stroke="#000" stroke-width="1.389"/>
<circle cx="387.30" cy="1113.20" r="4.167" fill="#8a2257" stroke="#000" stroke-width="1.389"/>
<circle cx="427.30" cy="1104.30" r="4.167" fill="#8a2257" stroke="#000" stroke-width="1.389"/>
<circle cx="494.40" cy="1082.20" r="4.167" fill="#8a2257" stroke="#000" stroke-width="1.389"/>
<circle cx="540.20" cy="1119.40" r="4.167" fill="#8a2257" stroke="#000" stroke-width="1.389"/>
<circle cx="564.40" cy="1103.20" r="4.167" fill="#8a2257" stroke="#000" stroke-width="1.389"/>
<circle cx="616.20" cy="1116.30" r="4.167" fill="#8a2257" stroke="#000" stroke-width="1.389"/>
<circle cx="636.40" cy="1075.20" r="4.167" fill="#8a2257" stroke="#000" stroke-width="1.389"/>
<circle cx="644.20" cy="1110.20" r="4.167" fill="#8a2257" stroke="#000" stroke-width="1.389"/>
<circle cx="685.40" cy="993.40" r="4.167" fill="#8a2257" stroke="#000" stroke-width="1.389"/>
<circle cx="818.20" cy="1098.50" r="4.167" fill="#8a2257" stroke="#000" stroke-width="1.389"/>
<circle cx="832.40" cy="1012.20" r="4.167" fill="#8a2257" stroke="#000" stroke-width="1.389"/>
<circle cx="930.40" cy="1092.20" r="4.167" fill="#8a2257" stroke="#000" stroke-width="1.389"/>
<circle cx="942.30" cy="1147.10" r="4.167" fill="#8a2257" stroke="#000" stroke-width="1.389"/>
<circle cx="989.80" cy="1112.10" r="4.167" fill="#8a2257" stroke="#000" stroke-width="1.389"/>
<circle cx="988.50" cy="1112.40" r="4.167" fill="#8a2257" stroke="#000" stroke-width="1.389"/>
<circle cx="1084.40" cy="1157.20" r="4.167" fill="#8a2257" stroke="#000" stroke-width="1.389"/>
<circle cx="1097.30" cy="1162.40" r="4.167" fill="#8a2257" stroke="#000" stroke-width="1.389"/>
<circle cx="1138.20" cy="1115.20" r="4.167" fill="#8a2257" stroke="#000" stroke-width="1.389"/>
<circle cx="1146.30" cy="1087.20" r="4.167" fill="#8a2257" stroke="#000" stroke-width="1.389"/>
<circle cx="1168.40" cy="1115.20" r="4.167" fill="#8a2257" stroke="#000" stroke-width="1.389"/>
<circle cx="1197.20" cy="1090.30" r="4.167" fill="#8a2257" stroke="#000" stroke-width="1.389"/>
<circle cx="1207.30" cy="1117.10" r="4.167" fill="#8a2257" stroke="#000" stroke-width="1.389"/>
<circle cx="1323.20" cy="1080.20" r="4.167" fill="#8a2257" stroke="#000" stroke-width="1.389"/>
<circle cx="1371.30" cy="1078.40" r="4.167" fill="#8a2257" stroke="#000" stroke-width="1.389"/>
<circle cx="1397.30" cy="1077.40" r="4.167" fill="#8a2257" stroke="#000" stroke-width="1.389"/>
<circle cx="1438.50" cy="1090.30" r="4.167" fill="#8a2257" stroke="#000" stroke-width="1.389"/>
<circle cx="1469.30" cy="1074.30" r="4.167" fill="#8a2257" stroke="#000" stroke-width="1.389"/>
<circle cx="1479.40" cy="1093.40" r="4.167" fill="#8a2257" stroke="#000" stroke-width="1.389"/>
<circle cx="1491.60" cy="1101.20" r="4.167" fill="#8a2257" stroke="#000" stroke-width="1.389"/>
</g>
<path d="M225.5 962.5H1620.5V1229.5H225.5Z" fill="none" stroke="#000" stroke-width="1.111" stroke-linecap="square" stroke-linejoin="miter"/>
<path d="M288.30 1229.50v4.86M443.43 1229.50v4.86M598.55 1229.50v4.86M753.67 1229.50v4.86M908.80 1229.50v4.86M1063.92 1229.50v4.86M1219.05 1229.50v4.86M1374.17 1229.50v4.86M1529.30 1229.50v4.86" stroke="#000" stroke-width="1.111"/>
<text x="288.30" y="1263.90" font-size="35.33" text-anchor="middle" textLength="21.21" lengthAdjust="spacingAndGlyphs">0</text>
<text x="443.43" y="1263.90" font-size="35.33" text-anchor="middle" textLength="21.21" lengthAdjust="spacingAndGlyphs">2</text>
<text x="598.55" y="1263.90" font-size="35.33" text-anchor="middle" textLength="21.21" lengthAdjust="spacingAndGlyphs">4</text>
<text x="753.67" y="1263.90" font-size="35.33" text-anchor="middle" textLength="21.21" lengthAdjust="spacingAndGlyphs">6</text>
<text x="908.80" y="1263.90" font-size="35.33" text-anchor="middle" textLength="21.21" lengthAdjust="spacingAndGlyphs">8</text>
<text x="1063.92" y="1263.90" font-size="35.33" text-anchor="middle" textLength="42.42" lengthAdjust="spacingAndGlyphs">10</text>
<text x="1219.05" y="1263.90" font-size="35.33" text-anchor="middle" textLength="42.42" lengthAdjust="spacingAndGlyphs">12</text>
<text x="1374.17" y="1263.90" font-size="35.33" text-anchor="middle" textLength="42.42" lengthAdjust="spacingAndGlyphs">14</text>
<text x="1529.30" y="1263.90" font-size="35.33" text-anchor="middle" textLength="42.42" lengthAdjust="spacingAndGlyphs">16</text>
<path d="M225.50 1193.50h-4.86M225.50 1086.00h-4.86M225.50 978.50h-4.86" stroke="#000" stroke-width="1.111"/>
<text x="213.30" y="1206.17" font-size="35.33" text-anchor="end" textLength="74.22" lengthAdjust="spacingAndGlyphs">15.0</text>
<text x="213.30" y="1098.67" font-size="35.33" text-anchor="end" textLength="74.22" lengthAdjust="spacingAndGlyphs">15.5</text>
<text x="213.30" y="991.17" font-size="35.33" text-anchor="end" textLength="74.22" lengthAdjust="spacingAndGlyphs">16.0</text>
<text x="922.50" y="1301.71" font-size="35.33" text-anchor="middle" textLength="229.85" lengthAdjust="spacingAndGlyphs">Phase (hours)</text>
<text x="126.57" y="1097.08" font-size="35.33" text-anchor="middle" textLength="135.73" lengthAdjust="spacingAndGlyphs" transform="rotate(-90 126.57 1097.08)">H (mag)</text>
<path d="M225 1465.0H1620" stroke="#000" stroke-width="2.083" stroke-dasharray="7.708 3.333"/>
<circle cx="922.40" cy="1348.60" r="4.167" fill="#177938" stroke="#000" stroke-width="1.389"/>
<circle cx="881.30" cy="1400.40" r="4.167" fill="#177938" stroke="#000" stroke-width="1.389"/>
<circle cx="909.40" cy="1396.30" r="4.167" fill="#177938" stroke="#000" stroke-width="1.389"/>
<circle cx="966.40" cy="1412.20" r="4.167" fill="#177938" stroke="#000" stroke-width="1.389"/>
<circle cx="867.60" cy="1427.20" r="4.167" fill="#177938" stroke="#000" stroke-width="1.389"/>
<circle cx="878.30" cy="1448.30" r="4.167" fill="#177938" stroke="#000" stroke-width="1.389"/>
<circle cx="938.30" cy="1450.20" r="4.167" fill="#177938" stroke="#000" stroke-width="1.389"/>
<circle cx="931.30" cy="1460.00" r="4.167" fill="#177938" stroke="#000" stroke-width="1.389"/>
<circle cx="905.30" cy="1464.40" r="4.167" fill="#177938" stroke="#000" stroke-width="1.389"/>
<circle cx="888.30" cy="1472.20" r="4.167" fill="#177938" stroke="#000" stroke-width="1.389"/>
<circle cx="942.40" cy="1476.10" r="4.167" fill="#177938" stroke="#000" stroke-width="1.389"/>
<circle cx="856.40" cy="1490.30" r="4.167" fill="#177938" stroke="#000" stroke-width="1.389"/>
<circle cx="959.40" cy="1491.10" r="4.167" fill="#177938" stroke="#000" stroke-width="1.389"/>
<circle cx="913.30" cy="1546.30" r="4.167" fill="#177938" stroke="#000" stroke-width="1.389"/>
<circle cx="934.20" cy="1550.20" r="4.167" fill="#177938" stroke="#000" stroke-width="1.389"/>
<circle cx="1475.40" cy="1436.50" r="4.167" fill="#177938" stroke="#000" stroke-width="1.389"/>
<circle cx="1486.70" cy="1459.30" r="4.167" fill="#177938" stroke="#000" stroke-width="1.389"/>
<circle cx="1468.30" cy="1481.00" r="4.167" fill="#177938" stroke="#000" stroke-width="1.389"/>
<circle cx="1478.50" cy="1483.30" r="4.167" fill="#177938" stroke="#000" stroke-width="1.389"/>
<circle cx="1529.40" cy="1444.30" r="4.167" fill="#177938" stroke="#000" stroke-width="1.389"/>
<circle cx="1538.30" cy="1444.30" r="4.167" fill="#177938" stroke="#000" stroke-width="1.389"/>
<circle cx="1548.80" cy="1470.20" r="4.167" fill="#177938" stroke="#000" stroke-width="1.389"/>
<circle cx="1546.40" cy="1487.30" r="4.167" fill="#177938" stroke="#000" stroke-width="1.389"/>
<circle cx="1556.40" cy="1492.30" r="4.167" fill="#177938" stroke="#000" stroke-width="1.389"/>
<circle cx="1543.50" cy="1502.30" r="4.167" fill="#177938" stroke="#000" stroke-width="1.389"/>
<circle cx="1521.40" cy="1519.20" r="4.167" fill="#177938" stroke="#000" stroke-width="1.389"/>
<circle cx="289.50" cy="1464.20" r="4.167" fill="#8a2257" stroke="#000" stroke-width="1.389"/>
<circle cx="945.30" cy="1398.30" r="4.167" fill="#8a2257" stroke="#000" stroke-width="1.389"/>
<circle cx="922.40" cy="1408.30" r="4.167" fill="#8a2257" stroke="#000" stroke-width="1.389"/>
<circle cx="909.40" cy="1416.30" r="4.167" fill="#8a2257" stroke="#000" stroke-width="1.389"/>
<circle cx="885.30" cy="1431.30" r="4.167" fill="#8a2257" stroke="#000" stroke-width="1.389"/>
<circle cx="931.30" cy="1434.10" r="4.167" fill="#8a2257" stroke="#000" stroke-width="1.389"/>
<circle cx="938.30" cy="1446.90" r="4.167" fill="#8a2257" stroke="#000" stroke-width="1.389"/>
<circle cx="917.40" cy="1454.10" r="4.167" fill="#8a2257" stroke="#000" stroke-width="1.389"/>
<circle cx="931.30" cy="1467.20" r="4.167" fill="#8a2257" stroke="#000" stroke-width="1.389"/>
<circle cx="844.20" cy="1468.30" r="4.167" fill="#8a2257" stroke="#000" stroke-width="1.389"/>
<circle cx="805.30" cy="1492.20" r="4.167" fill="#8a2257" stroke="#000" stroke-width="1.389"/>
<circle cx="881.30" cy="1503.30" r="4.167" fill="#8a2257" stroke="#000" stroke-width="1.389"/>
<circle cx="888.30" cy="1512.20" r="4.167" fill="#8a2257" stroke="#000" stroke-width="1.389"/>
<circle cx="905.30" cy="1523.30" r="4.167" fill="#8a2257" stroke="#000" stroke-width="1.389"/>
<circle cx="966.40" cy="1558.30" r="4.167" fill="#8a2257" stroke="#000" stroke-width="1.389"/>
<circle cx="934.20" cy="1590.00" r="4.167" fill="#8a2257" stroke="#000" stroke-width="1.389"/>
<circle cx="1438.30" cy="1467.10" r="4.167" fill="#8a2257" stroke="#000" stroke-width="1.389"/>
<circle cx="1440.40" cy="1475.40" r="4.167" fill="#8a2257" stroke="#000" stroke-width="1.389"/>
<circle cx="1468.30" cy="1432.30" r="4.167" fill="#8a2257" stroke="#000" stroke-width="1.389"/>
<circle cx="1480.60" cy="1437.30" r="4.167" fill="#8a2257" stroke="#000" stroke-width="1.389"/>
<circle cx="1471.40" cy="1456.30" r="4.167" fill="#8a2257" stroke="#000" stroke-width="1.389"/>
<circle cx="1483.50" cy="1460.20" r="4.167" fill="#8a2257" stroke="#000" stroke-width="1.389"/>
<circle cx="1490.40" cy="1473.20" r="4.167" fill="#8a2257" stroke="#000" stroke-width="1.389"/>
<circle cx="1475.40" cy="1475.00" r="4.167" fill="#8a2257" stroke="#000" stroke-width="1.389"/>
<circle cx="1468.30" cy="1484.30" r="4.167" fill="#8a2257" stroke="#000" stroke-width="1.389"/>
<circle cx="1473.50" cy="1494.30" r="4.167" fill="#8a2257" stroke="#000" stroke-width="1.389"/>
<circle cx="1529.40" cy="1428.20" r="4.167" fill="#8a2257" stroke="#000" stroke-width="1.389"/>
<circle cx="1548.60" cy="1443.30" r="4.167" fill="#8a2257" stroke="#000" stroke-width="1.389"/>
<circle cx="1545.40" cy="1454.30" r="4.167" fill="#8a2257" stroke="#000" stroke-width="1.389"/>
<circle cx="1543.30" cy="1472.30" r="4.167" fill="#8a2257" stroke="#000" stroke-width="1.389"/>
<circle cx="1556.40" cy="1472.30" r="4.167" fill="#8a2257" stroke="#000" stroke-width="1.389"/>
<path d="M225.5 1335.5H1620.5V1602.5H225.5Z" fill="none" stroke="#000" stroke-width="1.111" stroke-linecap="square" stroke-linejoin="miter"/>
<path d="M425.50 1602.50v4.86M668.00 1602.50v4.86M910.50 1602.50v4.86M1153.00 1602.50v4.86M1395.50 1602.50v4.86" stroke="#000" stroke-width="1.111"/>
<text x="425.50" y="1637.05" font-size="35.33" text-anchor="middle" textLength="116.63" lengthAdjust="spacingAndGlyphs">2.4586</text>
<text x="668.00" y="1637.05" font-size="35.33" text-anchor="middle" textLength="116.63" lengthAdjust="spacingAndGlyphs">2.4588</text>
<text x="910.50" y="1637.05" font-size="35.33" text-anchor="middle" textLength="116.63" lengthAdjust="spacingAndGlyphs">2.4590</text>
<text x="1153.00" y="1637.05" font-size="35.33" text-anchor="middle" textLength="116.63" lengthAdjust="spacingAndGlyphs">2.4592</text>
<text x="1395.50" y="1637.05" font-size="35.33" text-anchor="middle" textLength="116.63" lengthAdjust="spacingAndGlyphs">2.4594</text>
<path d="M225.50 1545.50h-4.86M225.50 1465.40h-4.86M225.50 1386.50h-4.86" stroke="#000" stroke-width="1.111"/>
<text x="213.30" y="1558.17" font-size="35.33" text-anchor="end" textLength="102.15" lengthAdjust="spacingAndGlyphs">−0.25</text>
<text x="213.30" y="1478.07" font-size="35.33" text-anchor="end" textLength="74.22" lengthAdjust="spacingAndGlyphs">0.00</text>
<text x="213.30" y="1399.17" font-size="35.33" text-anchor="end" textLength="74.22" lengthAdjust="spacingAndGlyphs">0.25</text>
<text x="921.00" y="1674.87" font-size="35.33" text-anchor="middle" textLength="181.30" lengthAdjust="spacingAndGlyphs">Julian Date</text>
<text x="1620.00" y="1674.48" font-size="35.33" text-anchor="end" textLength="62.92" lengthAdjust="spacingAndGlyphs">1e6</text>
<text x="100.64" y="1473.23" font-size="35.33" text-anchor="middle" textLength="158.14" lengthAdjust="spacingAndGlyphs" transform="rotate(-90 100.64 1473.23)">Residuals</text>
</svg>
</body></html>
